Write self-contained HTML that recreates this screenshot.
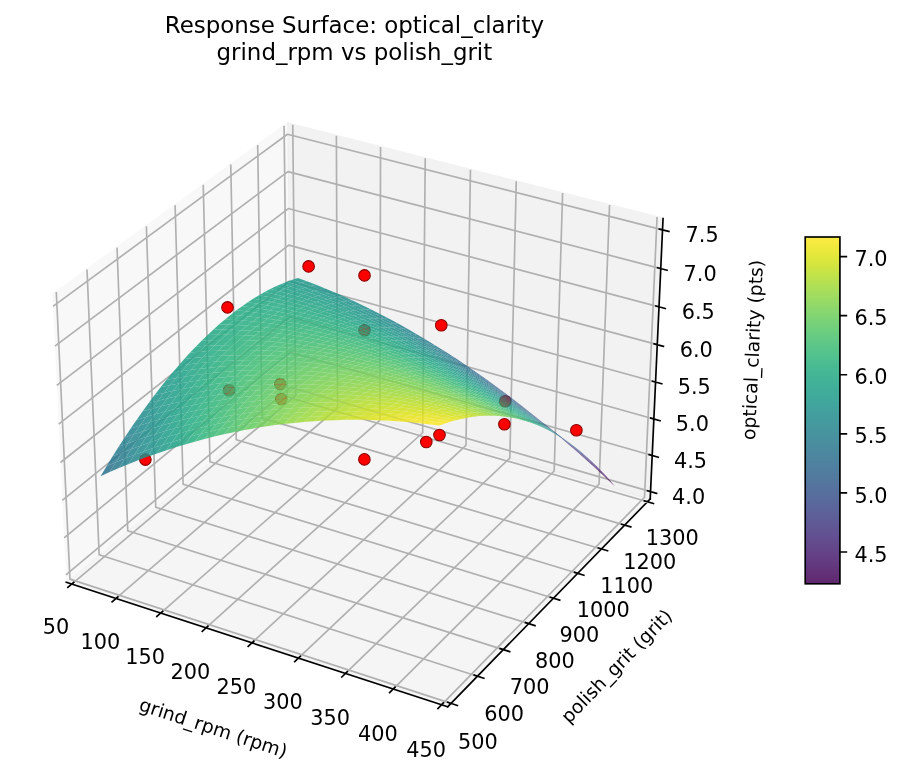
<!DOCTYPE html>
<html lang="en"><head><meta charset="utf-8"><title>Response Surface: optical_clarity</title>
<style>html,body{margin:0;padding:0;background:#fff}svg{display:block}</style></head>
<body>
<svg width="902" height="775" viewBox="0 0 432.96 372" font-family="'DejaVu Sans', 'Liberation Sans', sans-serif" fill="#000">
<rect width="432.96" height="372" fill="#fff"/>
<path d="M31.81 279.48L139.42 189.28L137.92 59.19L25.16 141.48" fill="#f2f2f2" stroke="#f2f2f2" opacity=".5" stroke-linejoin="miter"/>
<path d="M139.42 189.28L312.1 239.47L318.26 104.9L137.92 59.19" fill="#e6e6e6" stroke="#e6e6e6" opacity=".5" stroke-linejoin="miter"/>
<path d="M31.81 279.48L214.86 339.27L312.1 239.47L139.42 189.28" fill="#ececec" stroke="#ececec" opacity=".5" stroke-linejoin="miter"/>
<path d="M34.44 280.34L141.91 190L140.52 59.85M55.65 287.27L162 195.84L161.46 65.16M77.13 294.29L182.32 201.75L182.66 70.53M98.89 301.39L202.88 207.72L204.11 75.96M120.92 308.59L223.67 213.77L225.82 81.47M143.23 315.87L244.72 219.88L247.8 87.04M165.84 323.26L266.01 226.07L270.05 92.68M188.74 330.74L287.55 232.34L292.58 98.39M211.94 338.31L309.36 238.67L315.39 104.17" fill="none" stroke="#b0b0b0" stroke-width=".8" stroke-linejoin="round"/>
<path d="M27.02 140.12L33.58 278L216.47 337.62M41.76 129.37L47.59 266.25L229.18 324.57M56.17 118.85L61.31 254.75L241.61 311.81M70.26 108.57L74.75 243.49L253.76 299.34M84.05 98.5L87.9 232.46L265.66 287.13M97.55 88.65L100.79 221.66L277.29 275.19M110.76 79.01L113.42 211.07L288.68 263.5M123.69 69.57L125.79 200.7L299.83 252.06M136.36 60.33L137.92 190.54L310.75 240.85" fill="none" stroke="#b0b0b0" stroke-width=".8" stroke-linejoin="round"/>
<path d="M312.26 235.96L139.38 185.88L31.63 275.89M313.05 218.63L139.19 169.1L30.78 258.14M313.86 201.11L138.99 152.14L29.91 240.19M314.67 183.37L138.79 134.98L29.04 222.01M315.49 165.43L138.6 117.64L28.15 203.62M316.32 147.28L138.39 100.1L27.26 184.99M317.16 128.92L138.19 82.37L26.35 166.14M318.01 110.33L137.98 64.43L25.43 147.06" fill="none" stroke="#b0b0b0" stroke-width=".8" stroke-linejoin="round"/>
<path d="M31.81 279.48L214.86 339.27M35.37 279.56L32.56 281.92M56.58 286.47L53.8 288.87M78.05 293.48L75.3 295.9M99.79 300.57L97.07 303.03M121.81 307.76L119.12 310.24M144.12 315.04L141.46 317.55M166.71 322.41L164.08 324.96M189.6 329.88L187.01 332.46M212.79 337.44L210.23 340.06" fill="none" stroke="#000" stroke-width=".8" stroke-linecap="square"/>
<text font-size="10" text-anchor="middle" x="26.91" y="304.36">50</text>
<text font-size="10" text-anchor="middle" x="48.14" y="311.41">100</text>
<text font-size="10" text-anchor="middle" x="69.64" y="318.55">150</text>
<text font-size="10" text-anchor="middle" x="91.41" y="325.77">200</text>
<text font-size="10" text-anchor="middle" x="113.46" y="333.09">250</text>
<text font-size="10" text-anchor="middle" x="135.8" y="340.51">300</text>
<text font-size="10" text-anchor="middle" x="158.43" y="348.02">350</text>
<text font-size="10" text-anchor="middle" x="181.35" y="355.63">400</text>
<text font-size="10" text-anchor="middle" x="204.57" y="363.34">450</text>
<text font-size="9" text-anchor="middle" transform="translate(101.44 352.35) rotate(-341.91)">grind_rpm (rpm)</text>
<path d="M312.1 239.47L214.86 339.27M214.92 337.11L219.55 338.62M227.65 324.08L232.24 325.55M240.09 311.33L244.65 312.78M252.26 298.87L256.78 300.28M264.16 286.67L268.65 288.05M275.81 274.74L280.26 276.09M287.21 263.06L291.63 264.38M298.37 251.63L302.76 252.92M309.3 240.43L313.66 241.7" fill="none" stroke="#000" stroke-width=".8" stroke-linecap="square"/>
<text font-size="10" text-anchor="middle" x="229.4" y="359.47">500</text>
<text font-size="10" text-anchor="middle" x="241.97" y="346.26">600</text>
<text font-size="10" text-anchor="middle" x="254.27" y="333.35">700</text>
<text font-size="10" text-anchor="middle" x="266.29" y="320.73">800</text>
<text font-size="10" text-anchor="middle" x="278.05" y="308.38">900</text>
<text font-size="10" text-anchor="middle" x="289.56" y="296.29">1000</text>
<text font-size="10" text-anchor="middle" x="300.83" y="284.46">1100</text>
<text font-size="10" text-anchor="middle" x="311.85" y="272.88">1200</text>
<text font-size="10" text-anchor="middle" x="322.65" y="261.54">1300</text>
<text font-size="9" text-anchor="middle" transform="translate(298.15 321.9) rotate(-45.74)">polish_grit (grit)</text>
<path d="M312.1 239.47L318.26 104.9M310.81 235.54L315.17 236.8M311.6 218.22L315.98 219.47M312.39 200.69L316.8 201.93M313.19 182.97L317.63 184.19M314 165.03L318.47 166.24M314.83 146.89L319.32 148.08M315.66 128.53L320.18 129.7M316.5 109.94L321.05 111.1" fill="none" stroke="#000" stroke-width=".8" stroke-linecap="square"/>
<text font-size="10" text-anchor="middle" x="330.54" y="241.73">4.0</text>
<text font-size="10" text-anchor="middle" x="331.44" y="224.43">4.5</text>
<text font-size="10" text-anchor="middle" x="332.34" y="206.93">5.0</text>
<text font-size="10" text-anchor="middle" x="333.26" y="189.23">5.5</text>
<text font-size="10" text-anchor="middle" x="334.19" y="171.32">6.0</text>
<text font-size="10" text-anchor="middle" x="335.13" y="153.2">6.5</text>
<text font-size="10" text-anchor="middle" x="336.08" y="134.86">7.0</text>
<text font-size="10" text-anchor="middle" x="337.04" y="116.31">7.5</text>
<text font-size="9" text-anchor="middle" transform="translate(364.32 168.11) rotate(-87.38)">optical_clarity (pts)</text>
<g fill="#f00" stroke="#8b0000" stroke-width=".5">
<circle cx="148.13" cy="127.87" r="2.78"/>
<circle cx="174.96" cy="132.19" r="2.78"/>
<circle cx="109.2" cy="147.55" r="2.78"/>
<circle cx="211.82" cy="156.14" r="2.78"/>
<circle cx="174.96" cy="158.5" r="2.78"/>
<circle cx="109.97" cy="187.34" r="2.78"/>
<circle cx="134.54" cy="184.37" r="2.78"/>
<circle cx="134.98" cy="191.52" r="2.78"/>
<circle cx="242.5" cy="192.62" r="2.78"/>
<circle cx="69.79" cy="220.61" r="2.78"/>
<circle cx="174.91" cy="220.51" r="2.78"/>
<circle cx="204.62" cy="212.16" r="2.78"/>
<circle cx="210.96" cy="208.8" r="2.78"/>
<circle cx="242.11" cy="203.66" r="2.78"/>
<circle cx="276.67" cy="206.5" r="2.78"/>
</g>
<g fill-opacity="0.85">
<path d="M140.36 134.24L144.73 135.75L147.35 135.01L142.98 133.4z" fill="#1f978b"/>
<path d="M144.73 135.75L149.11 137.34L151.72 136.7L147.35 135.01z" fill="#1f968b"/>
<path d="M149.11 137.34L153.5 139.01L156.1 138.48L151.72 136.7z" fill="#1f958b"/>
<path d="M137.73 135.2L142.1 136.6L144.73 135.75L140.36 134.24z" fill="#1e9b8a"/>
<path d="M153.5 139.01L157.9 140.76L160.49 140.33L156.1 138.48z" fill="#1f948c"/>
<path d="M142.1 136.6L146.49 138.09L149.11 137.34L144.73 135.75z" fill="#1f9a8a"/>
<path d="M157.9 140.76L162.31 142.59L164.89 142.26L160.49 140.33z" fill="#20928c"/>
<path d="M146.49 138.09L150.89 139.65L153.5 139.01L149.11 137.34z" fill="#1f998a"/>
<path d="M135.08 136.27L139.46 137.57L142.1 136.6L137.73 135.2z" fill="#1e9d89"/>
<path d="M162.31 142.59L166.73 144.5L169.3 144.28L164.89 142.26z" fill="#20928c"/>
<path d="M150.89 139.65L155.29 141.3L157.9 140.76L153.5 139.01z" fill="#1f988b"/>
<path d="M139.46 137.57L143.85 138.95L146.49 138.09L142.1 136.6z" fill="#1e9d89"/>
<path d="M166.73 144.5L171.16 146.49L173.72 146.37L169.3 144.28z" fill="#21908d"/>
<path d="M155.29 141.3L159.71 143.03L162.31 142.59L157.9 140.76z" fill="#1f968b"/>
<path d="M171.16 146.49L175.59 148.57L178.15 148.55L173.72 146.37z" fill="#228d8d"/>
<path d="M143.85 138.95L148.26 140.41L150.89 139.65L146.49 138.09z" fill="#1e9c89"/>
<path d="M132.42 137.45L136.81 138.65L139.46 137.57L135.08 136.27z" fill="#1fa088"/>
<path d="M159.71 143.03L164.14 144.83L166.73 144.5L162.31 142.59z" fill="#1f958b"/>
<path d="M175.59 148.57L180.04 150.72L182.58 150.8L178.15 148.55z" fill="#228b8d"/>
<path d="M148.26 140.41L152.68 141.95L155.29 141.3L150.89 139.65z" fill="#1e9b8a"/>
<path d="M136.81 138.65L141.21 139.92L143.85 138.95L139.46 137.57z" fill="#1fa088"/>
<path d="M164.14 144.83L168.58 146.72L171.16 146.49L166.73 144.5z" fill="#20938c"/>
<path d="M180.04 150.72L184.5 152.96L187.03 153.14L182.58 150.8z" fill="#23898e"/>
<path d="M152.68 141.95L157.1 143.58L159.71 143.03L155.29 141.3z" fill="#1f9a8a"/>
<path d="M141.21 139.92L145.62 141.28L148.26 140.41L143.85 138.95z" fill="#1f9f88"/>
<path d="M129.75 138.75L134.14 139.84L136.81 138.65L132.42 137.45z" fill="#1fa187"/>
<path d="M184.5 152.96L188.96 155.27L191.48 155.56L187.03 153.14z" fill="#24868e"/>
<path d="M168.58 146.72L173.03 148.69L175.59 148.57L171.16 146.49z" fill="#20928c"/>
<path d="M157.1 143.58L161.54 145.28L164.14 144.83L159.71 143.03z" fill="#1f998a"/>
<path d="M188.96 155.27L193.43 157.67L195.94 158.06L191.48 155.56z" fill="#25838e"/>
<path d="M173.03 148.69L177.48 150.75L180.04 150.72L175.59 148.57z" fill="#21908d"/>
<path d="M145.62 141.28L150.04 142.72L152.68 141.95L148.26 140.41z" fill="#1f9f88"/>
<path d="M134.14 139.84L138.55 141.01L141.21 139.92L136.81 138.65z" fill="#1fa187"/>
<path d="M193.43 157.67L197.91 160.15L200.4 160.64L195.94 158.06z" fill="#26818e"/>
<path d="M161.54 145.28L165.99 147.06L168.58 146.72L164.14 144.83z" fill="#1f988b"/>
<path d="M177.48 150.75L181.95 152.88L184.5 152.96L180.04 150.72z" fill="#218e8d"/>
<path d="M150.04 142.72L154.48 144.24L157.1 143.58L152.68 141.95z" fill="#1f9e89"/>
<path d="M127.07 140.16L131.47 141.14L134.14 139.84L129.75 138.75z" fill="#20a386"/>
<path d="M138.55 141.01L142.97 142.26L145.62 141.28L141.21 139.92z" fill="#1fa187"/>
<path d="M197.91 160.15L202.39 162.71L204.88 163.3L200.4 160.64z" fill="#277e8e"/>
<path d="M165.99 147.06L170.44 148.93L173.03 148.69L168.58 146.72z" fill="#1f968b"/>
<path d="M181.95 152.88L186.42 155.09L188.96 155.27L184.5 152.96z" fill="#228c8d"/>
<path d="M202.39 162.71L206.88 165.36L209.35 166.05L204.88 163.3z" fill="#297a8e"/>
<path d="M154.48 144.24L158.92 145.83L161.54 145.28L157.1 143.58z" fill="#1e9d89"/>
<path d="M142.97 142.26L147.4 143.59L150.04 142.72L145.62 141.28z" fill="#1fa187"/>
<path d="M131.47 141.14L135.88 142.21L138.55 141.01L134.14 139.84z" fill="#20a386"/>
<path d="M186.42 155.09L190.9 157.39L193.43 157.67L188.96 155.27z" fill="#23898e"/>
<path d="M170.44 148.93L174.91 150.88L177.48 150.75L173.03 148.69z" fill="#1f948c"/>
<path d="M206.88 165.36L211.38 168.08L213.84 168.87L209.35 166.05z" fill="#2a768e"/>
<path d="M158.92 145.83L163.38 147.52L165.99 147.06L161.54 145.28z" fill="#1e9c89"/>
<path d="M190.9 157.39L195.39 159.77L197.91 160.15L193.43 157.67z" fill="#24868e"/>
<path d="M124.37 141.68L128.78 142.57L131.47 141.14L127.07 140.16z" fill="#21a585"/>
<path d="M174.91 150.88L179.39 152.91L181.95 152.88L177.48 150.75z" fill="#20928c"/>
<path d="M147.4 143.59L151.84 145.01L154.48 144.24L150.04 142.72z" fill="#1fa188"/>
<path d="M211.38 168.08L215.88 170.89L218.33 171.78L213.84 168.87z" fill="#2c738e"/>
<path d="M135.88 142.21L140.31 143.36L142.97 142.26L138.55 141.01z" fill="#20a486"/>
<path d="M163.38 147.52L167.85 149.28L170.44 148.93L165.99 147.06z" fill="#1e9b8a"/>
<path d="M195.39 159.77L199.89 162.23L202.39 162.71L197.91 160.15z" fill="#25838e"/>
<path d="M215.88 170.89L220.39 173.77L222.82 174.76L218.33 171.78z" fill="#2e6f8e"/>
<path d="M179.39 152.91L183.87 155.02L186.42 155.09L181.95 152.88z" fill="#21918c"/>
<path d="M151.84 145.01L156.3 146.5L158.92 145.83L154.48 144.24z" fill="#1fa188"/>
<path d="M128.78 142.57L133.2 143.53L135.88 142.21L131.47 141.14z" fill="#21a585"/>
<path d="M140.31 143.36L144.74 144.58L147.4 143.59L142.97 142.26z" fill="#20a486"/>
<path d="M220.39 173.77L224.91 176.74L227.32 177.83L222.82 174.76z" fill="#2f6b8e"/>
<path d="M199.89 162.23L204.39 164.77L206.88 165.36L202.39 162.71z" fill="#26818e"/>
<path d="M167.85 149.28L172.32 151.12L174.91 150.88L170.44 148.93z" fill="#1f998a"/>
<path d="M183.87 155.02L188.36 157.21L190.9 157.39L186.42 155.09z" fill="#218f8d"/>
<path d="M224.91 176.74L229.43 179.79L231.83 180.98L227.32 177.83z" fill="#31678e"/>
<path d="M121.67 143.33L126.08 144.1L128.78 142.57L124.37 141.68z" fill="#21a685"/>
<path d="M156.3 146.5L160.76 148.08L163.38 147.52L158.92 145.83z" fill="#1fa088"/>
<path d="M204.39 164.77L208.91 167.39L211.38 168.08L206.88 165.36z" fill="#277e8e"/>
<path d="M133.2 143.53L137.63 144.57L140.31 143.36L135.88 142.21z" fill="#21a685"/>
<path d="M144.74 144.58L149.19 145.89L151.84 145.01L147.4 143.59z" fill="#20a386"/>
<path d="M172.32 151.12L176.81 153.05L179.39 152.91L174.91 150.88z" fill="#1f978b"/>
<path d="M229.43 179.79L233.95 182.92L236.34 184.21L231.83 180.98z" fill="#33628d"/>
<path d="M188.36 157.21L192.86 159.49L195.39 159.77L190.9 157.39z" fill="#228c8d"/>
<path d="M208.91 167.39L213.42 170.1L215.88 170.89L211.38 168.08z" fill="#297a8e"/>
<path d="M160.76 148.08L165.24 149.74L167.85 149.28L163.38 147.52z" fill="#1f9f88"/>
<path d="M233.95 182.92L238.48 186.14L240.85 187.52L236.34 184.21z" fill="#365d8d"/>
<path d="M126.08 144.1L130.5 144.96L133.2 143.53L128.78 142.57z" fill="#22a785"/>
<path d="M192.86 159.49L197.37 161.85L199.89 162.23L195.39 159.77z" fill="#23898e"/>
<path d="M149.19 145.89L153.65 147.28L156.3 146.5L151.84 145.01z" fill="#20a386"/>
<path d="M176.81 153.05L181.3 155.06L183.87 155.02L179.39 152.91z" fill="#1f958b"/>
<path d="M137.63 144.57L142.07 145.69L144.74 144.58L140.31 143.36z" fill="#21a685"/>
<path d="M213.42 170.1L217.95 172.88L220.39 173.77L215.88 170.89z" fill="#2a768e"/>
<path d="M238.48 186.14L243.02 189.43L245.37 190.91L240.85 187.52z" fill="#38588c"/>
<path d="M165.24 149.74L169.72 151.48L172.32 151.12L167.85 149.28z" fill="#1e9d89"/>
<path d="M197.37 161.85L201.89 164.29L204.39 164.77L199.89 162.23z" fill="#24878e"/>
<path d="M118.95 145.09L123.37 145.76L126.08 144.1L121.67 143.33z" fill="#22a884"/>
<path d="M243.02 189.43L247.56 192.8L249.89 194.39L245.37 190.91z" fill="#3b528b"/>
<path d="M217.95 172.88L222.48 175.75L224.91 176.74L220.39 173.77z" fill="#2c728e"/>
<path d="M181.3 155.06L185.81 157.15L188.36 157.21L183.87 155.02z" fill="#20938c"/>
<path d="M153.65 147.28L158.13 148.76L160.76 148.08L156.3 146.5z" fill="#1fa287"/>
<path d="M130.5 144.96L134.94 145.89L137.63 144.57L133.2 143.53z" fill="#22a884"/>
<path d="M142.07 145.69L146.53 146.89L149.19 145.89L144.74 144.58z" fill="#21a685"/>
<path d="M247.56 192.8L252.1 196.26L254.41 197.94L249.89 194.39z" fill="#3d4d8a"/>
<path d="M222.48 175.75L227.01 178.7L229.43 179.79L224.91 176.74z" fill="#2e6f8e"/>
<path d="M201.89 164.29L206.41 166.81L208.91 167.39L204.39 164.77z" fill="#25838e"/>
<path d="M169.72 151.48L174.22 153.3L176.81 153.05L172.32 151.12z" fill="#1e9c89"/>
<path d="M252.1 196.26L256.64 199.8L258.94 201.57L254.41 197.94z" fill="#404688"/>
<path d="M185.81 157.15L190.32 159.32L192.86 159.49L188.36 157.21z" fill="#20928c"/>
<path d="M123.37 145.76L127.8 146.51L130.5 144.96L126.08 144.1z" fill="#23a983"/>
<path d="M227.01 178.7L231.55 181.73L233.95 182.92L229.43 179.79z" fill="#2f6b8e"/>
<path d="M158.13 148.76L162.61 150.31L165.24 149.74L160.76 148.08z" fill="#1fa287"/>
<path d="M256.64 199.8L261.19 203.41L263.47 205.28L258.94 201.57z" fill="#423f85"/>
<path d="M206.41 166.81L210.95 169.41L213.42 170.1L208.91 167.39z" fill="#26818e"/>
<path d="M134.94 145.89L139.39 146.91L142.07 145.69L137.63 144.57z" fill="#22a884"/>
<path d="M146.53 146.89L151 148.18L153.65 147.28L149.19 145.89z" fill="#21a685"/>
<path d="M174.22 153.3L178.72 155.2L181.3 155.06L176.81 153.05z" fill="#1f9a8a"/>
<path d="M190.32 159.32L194.84 161.57L197.37 161.85L192.86 159.49z" fill="#218f8d"/>
<path d="M261.19 203.41L265.74 207.11L268 209.08L263.47 205.28z" fill="#453882"/>
<path d="M231.55 181.73L236.1 184.85L238.48 186.14L233.95 182.92z" fill="#31668e"/>
<path d="M116.23 146.97L120.65 147.53L123.37 145.76L118.95 145.09z" fill="#22a884"/>
<path d="M210.95 169.41L215.48 172.1L217.95 172.88L213.42 170.1z" fill="#277e8e"/>
<path d="M265.74 207.11L270.29 210.89L272.53 212.95L268 209.08z" fill="#46307e"/>
<path d="M162.61 150.31L167.1 151.94L169.72 151.48L165.24 149.74z" fill="#1fa187"/>
<path d="M236.1 184.85L240.65 188.04L243.02 189.43L238.48 186.14z" fill="#34618d"/>
<path d="M127.8 146.51L132.24 147.34L134.94 145.89L130.5 144.96z" fill="#24aa83"/>
<path d="M151 148.18L155.48 149.54L158.13 148.76L153.65 147.28z" fill="#21a685"/>
<path d="M270.29 210.89L274.84 214.75L277.07 216.9L272.53 212.95z" fill="#482979"/>
<path d="M194.84 161.57L199.37 163.91L201.89 164.29L197.37 161.85z" fill="#228d8d"/>
<path d="M139.39 146.91L143.85 148.01L146.53 146.89L142.07 145.69z" fill="#23a983"/>
<path d="M178.72 155.2L183.24 157.19L185.81 157.15L181.3 155.06z" fill="#1f998a"/>
<path d="M215.48 172.1L220.03 174.86L222.48 175.75L217.95 172.88z" fill="#297a8e"/>
<path d="M274.84 214.75L279.4 218.68L281.6 220.93L277.07 216.9z" fill="#482071"/>
<path d="M240.65 188.04L245.2 191.32L247.56 192.8L243.02 189.43z" fill="#365c8d"/>
<path d="M167.1 151.94L171.61 153.66L174.22 153.3L169.72 151.48z" fill="#1fa088"/>
<path d="M120.65 147.53L125.08 148.17L127.8 146.51L123.37 145.76z" fill="#24aa83"/>
<path d="M279.4 218.68L283.95 222.7L286.14 225.05L281.6 220.93z" fill="#48186a"/>
<path d="M199.37 163.91L203.91 166.33L206.41 166.81L201.89 164.29z" fill="#238a8d"/>
<path d="M245.2 191.32L249.76 194.68L252.1 196.26L247.56 192.8z" fill="#39568c"/>
<path d="M220.03 174.86L224.58 177.71L227.01 178.7L222.48 175.75z" fill="#2a768e"/>
<path d="M183.24 157.19L187.76 159.26L190.32 159.32L185.81 157.15z" fill="#1f968b"/>
<path d="M283.95 222.7L288.51 226.8L290.67 229.24L286.14 225.05z" fill="#470e61"/>
<path d="M155.48 149.54L159.97 150.99L162.61 150.31L158.13 148.76z" fill="#21a585"/>
<path d="M132.24 147.34L136.7 148.25L139.39 146.91L134.94 145.89z" fill="#24aa83"/>
<path d="M143.85 148.01L148.33 149.19L151 148.18L146.53 146.89z" fill="#23a983"/>
<path d="M288.51 226.8L293.06 230.98L295.21 233.5L290.67 229.24z" fill="#440256"/>
<path d="M113.49 148.96L117.92 149.42L120.65 147.53L116.23 146.97z" fill="#23a983"/>
<path d="M249.76 194.68L254.32 198.11L256.64 199.8L252.1 196.26z" fill="#3b518b"/>
<path d="M224.58 177.71L229.13 180.64L231.55 181.73L227.01 178.7z" fill="#2c728e"/>
<path d="M203.91 166.33L208.45 168.83L210.95 169.41L206.41 166.81z" fill="#24878e"/>
<path d="M171.61 153.66L176.12 155.46L178.72 155.2L174.22 153.3z" fill="#1f9f88"/>
<path d="M187.76 159.26L192.29 161.41L194.84 161.57L190.32 159.32z" fill="#1f948c"/>
<path d="M254.32 198.11L258.89 201.63L261.19 203.41L256.64 199.8z" fill="#3e4a89"/>
<path d="M125.08 148.17L129.53 148.9L132.24 147.34L127.8 146.51z" fill="#25ab82"/>
<path d="M159.97 150.99L164.47 152.52L167.1 151.94L162.61 150.31z" fill="#20a486"/>
<path d="M229.13 180.64L233.69 183.66L236.1 184.85L231.55 181.73z" fill="#2e6f8e"/>
<path d="M136.7 148.25L141.17 149.24L143.85 148.01L139.39 146.91z" fill="#25ab82"/>
<path d="M148.33 149.19L152.82 150.45L155.48 149.54L151 148.18z" fill="#23a983"/>
<path d="M208.45 168.83L213 171.41L215.48 172.1L210.95 169.41z" fill="#25848e"/>
<path d="M258.89 201.63L263.45 205.24L265.74 207.11L261.19 203.41z" fill="#404588"/>
<path d="M176.12 155.46L180.65 157.34L183.24 157.19L178.72 155.2z" fill="#1e9d89"/>
<path d="M192.29 161.41L196.83 163.64L199.37 163.91L194.84 161.57z" fill="#20928c"/>
<path d="M117.92 149.42L122.35 149.96L125.08 148.17L120.65 147.53z" fill="#25ab82"/>
<path d="M233.69 183.66L238.26 186.75L240.65 188.04L236.1 184.85z" fill="#306a8e"/>
<path d="M263.45 205.24L268.02 208.92L270.29 210.89L265.74 207.11z" fill="#433e85"/>
<path d="M213 171.41L217.56 174.08L220.03 174.86L215.48 172.1z" fill="#26818e"/>
<path d="M164.47 152.52L168.99 154.13L171.61 153.66L167.1 151.94z" fill="#20a486"/>
<path d="M129.53 148.9L133.99 149.7L136.7 148.25L132.24 147.34z" fill="#25ac82"/>
<path d="M268.02 208.92L272.6 212.68L274.84 214.75L270.29 210.89z" fill="#453781"/>
<path d="M238.26 186.75L242.83 189.93L245.2 191.32L240.65 188.04z" fill="#32658e"/>
<path d="M152.82 150.45L157.32 151.79L159.97 150.99L155.48 149.54z" fill="#23a983"/>
<path d="M110.75 151.08L115.17 151.43L117.92 149.42L113.49 148.96z" fill="#23a983"/>
<path d="M141.17 149.24L145.65 150.31L148.33 149.19L143.85 148.01z" fill="#25ab82"/>
<path d="M196.83 163.64L201.38 165.96L203.91 166.33L199.37 163.91z" fill="#21908d"/>
<path d="M180.65 157.34L185.18 159.31L187.76 159.26L183.24 157.19z" fill="#1e9c89"/>
<path d="M272.6 212.68L277.17 216.52L279.4 218.68L274.84 214.75z" fill="#472e7c"/>
<path d="M217.56 174.08L222.12 176.83L224.58 177.71L220.03 174.86z" fill="#277e8e"/>
<path d="M242.83 189.93L247.4 193.19L249.76 194.68L245.2 191.32z" fill="#34618d"/>
<path d="M277.17 216.52L281.74 220.45L283.95 222.7L279.4 218.68z" fill="#482677"/>
<path d="M122.35 149.96L126.81 150.57L129.53 148.9L125.08 148.17z" fill="#25ac82"/>
<path d="M168.99 154.13L173.51 155.83L176.12 155.46L171.61 153.66z" fill="#1fa287"/>
<path d="M201.38 165.96L205.94 168.36L208.45 168.83L203.91 166.33z" fill="#228d8d"/>
<path d="M281.74 220.45L286.32 224.45L288.51 226.8L283.95 222.7z" fill="#481d6f"/>
<path d="M185.18 159.31L189.73 161.35L192.29 161.41L187.76 159.26z" fill="#1f9a8a"/>
<path d="M133.99 149.7L138.47 150.58L141.17 149.24L136.7 148.25z" fill="#26ad81"/>
<path d="M222.12 176.83L226.69 179.66L229.13 180.64L224.58 177.71z" fill="#297a8e"/>
<path d="M157.32 151.79L161.83 153.21L164.47 152.52L159.97 150.99z" fill="#22a884"/>
<path d="M247.4 193.19L251.98 196.53L254.32 198.11L249.76 194.68z" fill="#375b8d"/>
<path d="M145.65 150.31L150.14 151.46L152.82 150.45L148.33 149.19z" fill="#25ac82"/>
<path d="M286.32 224.45L290.9 228.53L293.06 230.98L288.51 226.8z" fill="#481467"/>
<path d="M115.17 151.43L119.61 151.86L122.35 149.96L117.92 149.42z" fill="#25ab82"/>
<path d="M251.98 196.53L256.57 199.95L258.89 201.63L254.32 198.11z" fill="#39558c"/>
<path d="M205.94 168.36L210.5 170.84L213 171.41L208.45 168.83z" fill="#238a8d"/>
<path d="M173.51 155.83L178.05 157.6L180.65 157.34L176.12 155.46z" fill="#1fa187"/>
<path d="M226.69 179.66L231.27 182.57L233.69 183.66L229.13 180.64z" fill="#2a768e"/>
<path d="M189.73 161.35L194.28 163.48L196.83 163.64L192.29 161.41z" fill="#1f988b"/>
<path d="M126.81 150.57L131.27 151.27L133.99 149.7L129.53 148.9z" fill="#27ad81"/>
<path d="M107.99 153.31L112.42 153.56L115.17 151.43L110.75 151.08z" fill="#24aa83"/>
<path d="M256.57 199.95L261.15 203.46L263.45 205.24L258.89 201.63z" fill="#3c508b"/>
<path d="M161.83 153.21L166.35 154.72L168.99 154.13L164.47 152.52z" fill="#22a785"/>
<path d="M138.47 150.58L142.96 151.55L145.65 150.31L141.17 149.24z" fill="#27ad81"/>
<path d="M150.14 151.46L154.65 152.7L157.32 151.79L152.82 150.45z" fill="#25ac82"/>
<path d="M231.27 182.57L235.85 185.57L238.26 186.75L233.69 183.66z" fill="#2c728e"/>
<path d="M210.5 170.84L215.08 173.4L217.56 174.08L213 171.41z" fill="#24878e"/>
<path d="M261.15 203.46L265.74 207.04L268.02 208.92L263.45 205.24z" fill="#3e4989"/>
<path d="M178.05 157.6L182.59 159.46L185.18 159.31L180.65 157.34z" fill="#1fa188"/>
<path d="M119.61 151.86L124.07 152.37L126.81 150.57L122.35 149.96z" fill="#26ad81"/>
<path d="M194.28 163.48L198.84 165.69L201.38 165.96L196.83 163.64z" fill="#1f958b"/>
<path d="M235.85 185.57L240.44 188.64L242.83 189.93L238.26 186.75z" fill="#2e6e8e"/>
<path d="M265.74 207.04L270.33 210.71L272.6 212.68L268.02 208.92z" fill="#414287"/>
<path d="M166.35 154.72L170.89 156.31L173.51 155.83L168.99 154.13z" fill="#22a785"/>
<path d="M215.08 173.4L219.65 176.05L222.12 176.83L217.56 174.08z" fill="#25848e"/>
<path d="M131.27 151.27L135.75 152.05L138.47 150.58L133.99 149.7z" fill="#28ae80"/>
<path d="M112.42 153.56L116.86 153.88L119.61 151.86L115.17 151.43z" fill="#25ac82"/>
<path d="M154.65 152.7L159.17 154.02L161.83 153.21L157.32 151.79z" fill="#25ab82"/>
<path d="M142.96 151.55L147.46 152.6L150.14 151.46L145.65 150.31z" fill="#27ad81"/>
<path d="M270.33 210.71L274.92 214.45L277.17 216.52L272.6 212.68z" fill="#443b84"/>
<path d="M240.44 188.64L245.03 191.8L247.4 193.19L242.83 189.93z" fill="#306a8e"/>
<path d="M182.59 159.46L187.15 161.4L189.73 161.35L185.18 159.31z" fill="#1f9f88"/>
<path d="M198.84 165.69L203.41 167.99L205.94 168.36L201.38 165.96z" fill="#20938c"/>
<path d="M274.92 214.45L279.52 218.28L281.74 220.45L277.17 216.52z" fill="#463480"/>
<path d="M219.65 176.05L224.24 178.77L226.69 179.66L222.12 176.83z" fill="#26818e"/>
<path d="M105.22 155.67L109.66 155.8L112.42 153.56L107.99 153.31z" fill="#23a983"/>
<path d="M124.07 152.37L128.54 152.96L131.27 151.27L126.81 150.57z" fill="#28ae80"/>
<path d="M245.03 191.8L249.63 195.04L251.98 196.53L247.4 193.19z" fill="#32658e"/>
<path d="M170.89 156.31L175.43 157.98L178.05 157.6L173.51 155.83z" fill="#21a685"/>
<path d="M279.52 218.28L284.11 222.19L286.32 224.45L281.74 220.45z" fill="#472d7b"/>
<path d="M203.41 167.99L207.99 170.36L210.5 170.84L205.94 168.36z" fill="#21918c"/>
<path d="M135.75 152.05L140.25 152.91L142.96 151.55L138.47 150.58z" fill="#29af7f"/>
<path d="M187.15 161.4L191.71 163.43L194.28 163.48L189.73 161.35z" fill="#1e9d89"/>
<path d="M159.17 154.02L163.7 155.42L166.35 154.72L161.83 153.21z" fill="#25ab82"/>
<path d="M224.24 178.77L228.83 181.59L231.27 182.57L226.69 179.66z" fill="#277e8e"/>
<path d="M147.46 152.6L151.97 153.73L154.65 152.7L150.14 151.46z" fill="#27ad81"/>
<path d="M284.11 222.19L288.71 226.18L290.9 228.53L286.32 224.45z" fill="#482475"/>
<path d="M249.63 195.04L254.23 198.37L256.57 199.95L251.98 196.53z" fill="#34608d"/>
<path d="M116.86 153.88L121.33 154.28L124.07 152.37L119.61 151.86z" fill="#27ad81"/>
<path d="M175.43 157.98L179.99 159.73L182.59 159.46L178.05 157.6z" fill="#20a486"/>
<path d="M207.99 170.36L212.57 172.82L215.08 173.4L210.5 170.84z" fill="#218e8d"/>
<path d="M254.23 198.37L258.83 201.77L261.15 203.46L256.57 199.95z" fill="#375b8d"/>
<path d="M228.83 181.59L233.43 184.48L235.85 185.57L231.27 182.57z" fill="#297a8e"/>
<path d="M128.54 152.96L133.03 153.63L135.75 152.05L131.27 151.27z" fill="#29af7f"/>
<path d="M109.66 155.8L114.11 156.02L116.86 153.88L112.42 153.56z" fill="#25ac82"/>
<path d="M191.71 163.43L196.29 165.54L198.84 165.69L194.28 163.48z" fill="#1e9b8a"/>
<path d="M163.7 155.42L168.25 156.9L170.89 156.31L166.35 154.72z" fill="#25ab82"/>
<path d="M140.25 152.91L144.76 153.85L147.46 152.6L142.96 151.55z" fill="#29af7f"/>
<path d="M258.83 201.77L263.44 205.26L265.74 207.04L261.15 203.46z" fill="#3a548c"/>
<path d="M151.97 153.73L156.5 154.94L159.17 154.02L154.65 152.7z" fill="#28ae80"/>
<path d="M102.45 158.14L106.88 158.17L109.66 155.8L105.22 155.67z" fill="#23a983"/>
<path d="M233.43 184.48L238.03 187.46L240.44 188.64L235.85 185.57z" fill="#2a768e"/>
<path d="M212.57 172.82L217.17 175.37L219.65 176.05L215.08 173.4z" fill="#228b8d"/>
<path d="M121.33 154.28L125.8 154.76L128.54 152.96L124.07 152.37z" fill="#29af7f"/>
<path d="M179.99 159.73L184.55 161.57L187.15 161.4L182.59 159.46z" fill="#20a386"/>
<path d="M263.44 205.26L268.04 208.83L270.33 210.71L265.74 207.04z" fill="#3c4f8a"/>
<path d="M196.29 165.54L200.87 167.73L203.41 167.99L198.84 165.69z" fill="#1f998a"/>
<path d="M238.03 187.46L242.64 190.51L245.03 191.8L240.44 188.64z" fill="#2c718e"/>
<path d="M133.03 153.63L137.53 154.38L140.25 152.91L135.75 152.05z" fill="#2ab07f"/>
<path d="M168.25 156.9L172.8 158.46L175.43 157.98L170.89 156.31z" fill="#24aa83"/>
<path d="M268.04 208.83L272.66 212.48L274.92 214.45L270.33 210.71z" fill="#3f4889"/>
<path d="M217.17 175.37L221.77 177.99L224.24 178.77L219.65 176.05z" fill="#23888e"/>
<path d="M114.11 156.02L118.57 156.32L121.33 154.28L116.86 153.88z" fill="#27ad81"/>
<path d="M144.76 153.85L149.28 154.87L151.97 153.73L147.46 152.6z" fill="#2ab07f"/>
<path d="M156.5 154.94L161.04 156.23L163.7 155.42L159.17 154.02z" fill="#27ad81"/>
<path d="M184.55 161.57L189.13 163.49L191.71 163.43L187.15 161.4z" fill="#1fa187"/>
<path d="M272.66 212.48L277.27 216.21L279.52 218.28L274.92 214.45z" fill="#424186"/>
<path d="M200.87 167.73L205.46 170L207.99 170.36L203.41 167.99z" fill="#1f968b"/>
<path d="M242.64 190.51L247.25 193.66L249.63 195.04L245.03 191.8z" fill="#2e6e8e"/>
<path d="M106.88 158.17L111.33 158.28L114.11 156.02L109.66 155.8z" fill="#25ac82"/>
<path d="M125.8 154.76L130.29 155.33L133.03 153.63L128.54 152.96z" fill="#2ab07f"/>
<path d="M221.77 177.99L226.37 180.7L228.83 181.59L224.24 178.77z" fill="#25848e"/>
<path d="M277.27 216.21L281.89 220.02L284.11 222.19L279.52 218.28z" fill="#443a83"/>
<path d="M172.8 158.46L177.37 160.11L179.99 159.73L175.43 157.98z" fill="#23a983"/>
<path d="M99.66 160.74L104.1 160.66L106.88 158.17L102.45 158.14z" fill="#22a884"/>
<path d="M247.25 193.66L251.87 196.88L254.23 198.37L249.63 195.04z" fill="#30698e"/>
<path d="M137.53 154.38L142.05 155.21L144.76 153.85L140.25 152.91z" fill="#2cb17e"/>
<path d="M281.89 220.02L286.51 223.92L288.71 226.18L284.11 222.19z" fill="#46337f"/>
<path d="M205.46 170L210.06 172.36L212.57 172.82L207.99 170.36z" fill="#1f948c"/>
<path d="M161.04 156.23L165.59 157.61L168.25 156.9L163.7 155.42z" fill="#27ad81"/>
<path d="M189.13 163.49L193.71 165.49L196.29 165.54L191.71 163.43z" fill="#1fa188"/>
<path d="M149.28 154.87L153.81 155.97L156.5 154.94L151.97 153.73z" fill="#2ab07f"/>
<path d="M118.57 156.32L123.05 156.69L125.8 154.76L121.33 154.28z" fill="#29af7f"/>
<path d="M226.37 180.7L230.98 183.5L233.43 184.48L228.83 181.59z" fill="#26828e"/>
<path d="M251.87 196.88L256.49 200.19L258.83 201.77L254.23 198.37z" fill="#32648e"/>
<path d="M177.37 160.11L181.94 161.84L184.55 161.57L179.99 159.73z" fill="#22a884"/>
<path d="M130.29 155.33L134.8 155.97L137.53 154.38L133.03 153.63z" fill="#2db27d"/>
<path d="M111.33 158.28L115.8 158.47L118.57 156.32L114.11 156.02z" fill="#27ad81"/>
<path d="M210.06 172.36L214.66 174.8L217.17 175.37L212.57 172.82z" fill="#20928c"/>
<path d="M256.49 200.19L261.11 203.58L263.44 205.26L258.83 201.77z" fill="#355f8d"/>
<path d="M230.98 183.5L235.6 186.37L238.03 187.46L233.43 184.48z" fill="#277e8e"/>
<path d="M193.71 165.49L198.31 167.58L200.87 167.73L196.29 165.54z" fill="#1f9f88"/>
<path d="M165.59 157.61L170.15 159.07L172.8 158.46L168.25 156.9z" fill="#27ad81"/>
<path d="M142.05 155.21L146.57 156.13L149.28 154.87L144.76 153.85z" fill="#2db27d"/>
<path d="M153.81 155.97L158.36 157.16L161.04 156.23L156.5 154.94z" fill="#2cb17e"/>
<path d="M104.1 160.66L108.55 160.66L111.33 158.28L106.88 158.17z" fill="#25ab82"/>
<path d="M261.11 203.58L265.74 207.05L268.04 208.83L263.44 205.26z" fill="#375a8c"/>
<path d="M235.6 186.37L240.22 189.33L242.64 190.51L238.03 187.46z" fill="#297a8e"/>
<path d="M123.05 156.69L127.55 157.15L130.29 155.33L125.8 154.76z" fill="#2cb17e"/>
<path d="M214.66 174.8L219.27 177.32L221.77 177.99L217.17 175.37z" fill="#218f8d"/>
<path d="M96.87 163.46L101.31 163.27L104.1 160.66L99.66 160.74z" fill="#22a785"/>
<path d="M181.94 161.84L186.53 163.66L189.13 163.49L184.55 161.57z" fill="#21a685"/>
<path d="M198.31 167.58L202.91 169.74L205.46 170L200.87 167.73z" fill="#1e9c89"/>
<path d="M265.74 207.05L270.37 210.6L272.66 212.48L268.04 208.83z" fill="#3a538b"/>
<path d="M134.8 155.97L139.32 156.7L142.05 155.21L137.53 154.38z" fill="#2eb37c"/>
<path d="M170.15 159.07L174.73 160.61L177.37 160.11L172.8 158.46z" fill="#26ad81"/>
<path d="M240.22 189.33L244.85 192.37L247.25 193.66L242.64 190.51z" fill="#2a768e"/>
<path d="M115.8 158.47L120.29 158.74L123.05 156.69L118.57 156.32z" fill="#2ab07f"/>
<path d="M219.27 177.32L223.89 179.93L226.37 180.7L221.77 177.99z" fill="#228c8d"/>
<path d="M146.57 156.13L151.12 157.13L153.81 155.97L149.28 154.87z" fill="#2eb37c"/>
<path d="M270.37 210.6L275 214.23L277.27 216.21L272.66 212.48z" fill="#3d4e8a"/>
<path d="M158.36 157.16L162.92 158.43L165.59 157.61L161.04 156.23z" fill="#2ab07f"/>
<path d="M186.53 163.66L191.12 165.55L193.71 165.49L189.13 163.49z" fill="#21a585"/>
<path d="M202.91 169.74L207.52 172L210.06 172.36L205.46 170z" fill="#1f9a8a"/>
<path d="M108.55 160.66L113.03 160.74L115.8 158.47L111.33 158.28z" fill="#27ad81"/>
<path d="M244.85 192.37L249.49 195.49L251.87 196.88L247.25 193.66z" fill="#2c718e"/>
<path d="M275 214.23L279.64 217.95L281.89 220.02L277.27 216.21z" fill="#3f4788"/>
<path d="M127.55 157.15L132.06 157.68L134.8 155.97L130.29 155.33z" fill="#2eb37c"/>
<path d="M223.89 179.93L228.52 182.61L230.98 183.5L226.37 180.7z" fill="#23888e"/>
<path d="M101.31 163.27L105.76 163.17L108.55 160.66L104.1 160.66z" fill="#25ab82"/>
<path d="M174.73 160.61L179.32 162.23L181.94 161.84L177.37 160.11z" fill="#25ac82"/>
<path d="M279.64 217.95L284.28 221.75L286.51 223.92L281.89 220.02z" fill="#424086"/>
<path d="M139.32 156.7L143.86 157.51L146.57 156.13L142.05 155.21z" fill="#2fb47c"/>
<path d="M249.49 195.49L254.13 198.7L256.49 200.19L251.87 196.88z" fill="#2e6d8e"/>
<path d="M94.07 166.29L98.51 166L101.31 163.27L96.87 163.46z" fill="#21a685"/>
<path d="M162.92 158.43L167.49 159.78L170.15 159.07L165.59 157.61z" fill="#2ab07f"/>
<path d="M207.52 172L212.14 174.33L214.66 174.8L210.06 172.36z" fill="#1f988b"/>
<path d="M151.12 157.13L155.67 158.2L158.36 157.16L153.81 155.97z" fill="#2eb37c"/>
<path d="M191.12 165.55L195.73 167.53L198.31 167.58L193.71 165.49z" fill="#20a386"/>
<path d="M120.29 158.74L124.79 159.09L127.55 157.15L123.05 156.69z" fill="#2db27d"/>
<path d="M228.52 182.61L233.15 185.39L235.6 186.37L230.98 183.5z" fill="#25858e"/>
<path d="M254.13 198.7L258.77 201.99L261.11 203.58L256.49 200.19z" fill="#30698e"/>
<path d="M113.03 160.74L117.51 160.9L120.29 158.74L115.8 158.47z" fill="#2ab07f"/>
<path d="M179.32 162.23L183.91 163.94L186.53 163.66L181.94 161.84z" fill="#25ab82"/>
<path d="M132.06 157.68L136.58 158.3L139.32 156.7L134.8 155.97z" fill="#31b57b"/>
<path d="M212.14 174.33L216.77 176.75L219.27 177.32L214.66 174.8z" fill="#1f958b"/>
<path d="M233.15 185.39L237.79 188.24L240.22 189.33L235.6 186.37z" fill="#26828e"/>
<path d="M195.73 167.53L200.34 169.6L202.91 169.74L198.31 167.58z" fill="#1fa187"/>
<path d="M258.77 201.99L263.41 205.36L265.74 207.05L261.11 203.58z" fill="#32648e"/>
<path d="M167.49 159.78L172.08 161.21L174.73 160.61L170.15 159.07z" fill="#2ab07f"/>
<path d="M143.86 157.51L148.4 158.4L151.12 157.13L146.57 156.13z" fill="#31b57b"/>
<path d="M105.76 163.17L110.24 163.14L113.03 160.74L108.55 160.66z" fill="#27ad81"/>
<path d="M155.67 158.2L160.24 159.37L162.92 158.43L158.36 157.16z" fill="#2fb47c"/>
<path d="M124.79 159.09L129.3 159.51L132.06 157.68L127.55 157.15z" fill="#2fb47c"/>
<path d="M98.51 166L102.97 165.79L105.76 163.17L101.31 163.27z" fill="#24aa83"/>
<path d="M263.41 205.36L268.06 208.81L270.37 210.6L265.74 207.05z" fill="#355e8d"/>
<path d="M216.77 176.75L221.4 179.25L223.89 179.93L219.27 177.32z" fill="#20928c"/>
<path d="M237.79 188.24L242.44 191.18L244.85 192.37L240.22 189.33z" fill="#277e8e"/>
<path d="M183.91 163.94L188.52 165.73L191.12 165.55L186.53 163.66z" fill="#24aa83"/>
<path d="M91.26 169.26L95.7 168.86L98.51 166L94.07 166.29z" fill="#21a585"/>
<path d="M200.34 169.6L204.97 171.74L207.52 172L202.91 169.74z" fill="#1fa088"/>
<path d="M136.58 158.3L141.13 159L143.86 157.51L139.32 156.7z" fill="#32b67a"/>
<path d="M268.06 208.81L272.72 212.35L275 214.23L270.37 210.6z" fill="#38598c"/>
<path d="M117.51 160.9L122.02 161.14L124.79 159.09L120.29 158.74z" fill="#2db27d"/>
<path d="M172.08 161.21L176.67 162.73L179.32 162.23L174.73 160.61z" fill="#29af7f"/>
<path d="M242.44 191.18L247.09 194.21L249.49 195.49L244.85 192.37z" fill="#297a8e"/>
<path d="M148.4 158.4L152.97 159.37L155.67 158.2L151.12 157.13z" fill="#32b67a"/>
<path d="M160.24 159.37L164.82 160.61L167.49 159.78L162.92 158.43z" fill="#2fb47c"/>
<path d="M221.4 179.25L226.04 181.84L228.52 182.61L223.89 179.93z" fill="#21908d"/>
<path d="M272.72 212.35L277.37 215.97L279.64 217.95L275 214.23z" fill="#3b528b"/>
<path d="M110.24 163.14L114.73 163.19L117.51 160.9L113.03 160.74z" fill="#2ab07f"/>
<path d="M188.52 165.73L193.13 167.6L195.73 167.53L191.12 165.55z" fill="#22a884"/>
<path d="M204.97 171.74L209.6 173.97L212.14 174.33L207.52 172z" fill="#1f9e89"/>
<path d="M129.3 159.51L133.84 160.02L136.58 158.3L132.06 157.68z" fill="#32b67a"/>
<path d="M247.09 194.21L251.75 197.31L254.13 198.7L249.49 195.49z" fill="#2b758e"/>
<path d="M277.37 215.97L282.03 219.67L284.28 221.75L279.64 217.95z" fill="#3d4d8a"/>
<path d="M102.97 165.79L107.44 165.66L110.24 163.14L105.76 163.17z" fill="#26ad81"/>
<path d="M226.04 181.84L230.69 184.51L233.15 185.39L228.52 182.61z" fill="#228c8d"/>
<path d="M176.67 162.73L181.28 164.33L183.91 163.94L179.32 162.23z" fill="#28ae80"/>
<path d="M141.13 159L145.68 159.78L148.4 158.4L143.86 157.51z" fill="#34b679"/>
<path d="M95.7 168.86L100.16 168.54L102.97 165.79L98.51 166z" fill="#23a983"/>
<path d="M164.82 160.61L169.41 161.94L172.08 161.21L167.49 159.78z" fill="#2fb47c"/>
<path d="M152.97 159.37L157.54 160.42L160.24 159.37L155.67 158.2z" fill="#32b67a"/>
<path d="M88.44 172.34L92.88 171.84L95.7 168.86L91.26 169.26z" fill="#20a386"/>
<path d="M122.02 161.14L126.54 161.47L129.3 159.51L124.79 159.09z" fill="#31b57b"/>
<path d="M251.75 197.31L256.41 200.5L258.77 201.99L254.13 198.7z" fill="#2c718e"/>
<path d="M209.6 173.97L214.24 176.29L216.77 176.75L212.14 174.33z" fill="#1e9b8a"/>
<path d="M193.13 167.6L197.76 169.56L200.34 169.6L195.73 167.53z" fill="#22a785"/>
<path d="M230.69 184.51L235.35 187.26L237.79 188.24L233.15 185.39z" fill="#23898e"/>
<path d="M114.73 163.19L119.24 163.32L122.02 161.14L117.51 160.9z" fill="#2eb37c"/>
<path d="M256.41 200.5L261.07 203.77L263.41 205.36L258.77 201.99z" fill="#2e6d8e"/>
<path d="M133.84 160.02L138.38 160.62L141.13 159L136.58 158.3z" fill="#34b679"/>
<path d="M181.28 164.33L185.9 166.02L188.52 165.73L183.91 163.94z" fill="#28ae80"/>
<path d="M214.24 176.29L218.89 178.69L221.4 179.25L216.77 176.75z" fill="#1f998a"/>
<path d="M197.76 169.56L202.4 171.6L204.97 171.74L200.34 169.6z" fill="#21a585"/>
<path d="M145.68 159.78L150.25 160.65L152.97 159.37L148.4 158.4z" fill="#35b779"/>
<path d="M107.44 165.66L111.94 165.6L114.73 163.19L110.24 163.14z" fill="#29af7f"/>
<path d="M169.41 161.94L174.02 163.35L176.67 162.73L172.08 161.21z" fill="#2eb37c"/>
<path d="M235.35 187.26L240.01 190.1L242.44 191.18L237.79 188.24z" fill="#25858e"/>
<path d="M261.07 203.77L265.74 207.13L268.06 208.81L263.41 205.36z" fill="#31688e"/>
<path d="M157.54 160.42L162.13 161.56L164.82 160.61L160.24 159.37z" fill="#34b679"/>
<path d="M126.54 161.47L131.07 161.87L133.84 160.02L129.3 159.51z" fill="#34b679"/>
<path d="M100.16 168.54L104.64 168.3L107.44 165.66L102.97 165.79z" fill="#25ac82"/>
<path d="M92.88 171.84L97.34 171.41L100.16 168.54L95.7 168.86z" fill="#22a785"/>
<path d="M265.74 207.13L270.41 210.56L272.72 212.35L268.06 208.81z" fill="#33638d"/>
<path d="M185.9 166.02L190.53 167.78L193.13 167.6L188.52 165.73z" fill="#26ad81"/>
<path d="M218.89 178.69L223.54 181.17L226.04 181.84L221.4 179.25z" fill="#1f968b"/>
<path d="M85.61 175.55L90.05 174.94L92.88 171.84L88.44 172.34z" fill="#1fa187"/>
<path d="M240.01 190.1L244.67 193.02L247.09 194.21L242.44 191.18z" fill="#26828e"/>
<path d="M202.4 171.6L207.04 173.73L209.6 173.97L204.97 171.74z" fill="#20a386"/>
<path d="M138.38 160.62L142.94 161.29L145.68 159.78L141.13 159z" fill="#37b878"/>
<path d="M119.24 163.32L123.76 163.54L126.54 161.47L122.02 161.14z" fill="#31b57b"/>
<path d="M174.02 163.35L178.63 164.84L181.28 164.33L176.67 162.73z" fill="#2eb37c"/>
<path d="M270.41 210.56L275.08 214.08L277.37 215.97L272.72 212.35z" fill="#355e8d"/>
<path d="M150.25 160.65L154.83 161.59L157.54 160.42L152.97 159.37z" fill="#37b878"/>
<path d="M162.13 161.56L166.73 162.78L169.41 161.94L164.82 160.61z" fill="#34b679"/>
<path d="M244.67 193.02L249.35 196.02L251.75 197.31L247.09 194.21z" fill="#277e8e"/>
<path d="M223.54 181.17L228.21 183.74L230.69 184.51L226.04 181.84z" fill="#20938c"/>
<path d="M111.94 165.6L116.45 165.63L119.24 163.32L114.73 163.19z" fill="#2db27d"/>
<path d="M190.53 167.78L195.16 169.64L197.76 169.56L193.13 167.6z" fill="#25ac82"/>
<path d="M275.08 214.08L279.76 217.69L282.03 219.67L277.37 215.97z" fill="#38588c"/>
<path d="M131.07 161.87L135.63 162.35L138.38 160.62L133.84 160.02z" fill="#37b878"/>
<path d="M207.04 173.73L211.7 175.94L214.24 176.29L209.6 173.97z" fill="#1fa187"/>
<path d="M104.64 168.3L109.13 168.13L111.94 165.6L107.44 165.66z" fill="#29af7f"/>
<path d="M249.35 196.02L254.02 199.11L256.41 200.5L251.75 197.31z" fill="#297a8e"/>
<path d="M178.63 164.84L183.26 166.42L185.9 166.02L181.28 164.33z" fill="#2db27d"/>
<path d="M97.34 171.41L101.82 171.06L104.64 168.3L100.16 168.54z" fill="#25ab82"/>
<path d="M142.94 161.29L147.52 162.04L150.25 160.65L145.68 159.78z" fill="#38b977"/>
<path d="M228.21 183.74L232.88 186.39L235.35 187.26L230.69 184.51z" fill="#21918c"/>
<path d="M90.05 174.94L94.51 174.4L97.34 171.41L92.88 171.84z" fill="#21a585"/>
<path d="M82.77 178.88L87.22 178.16L90.05 174.94L85.61 175.55z" fill="#1fa088"/>
<path d="M123.76 163.54L128.3 163.83L131.07 161.87L126.54 161.47z" fill="#34b679"/>
<path d="M166.73 162.78L171.35 164.08L174.02 163.35L169.41 161.94z" fill="#34b679"/>
<path d="M154.83 161.59L159.43 162.62L162.13 161.56L157.54 160.42z" fill="#38b977"/>
<path d="M195.16 169.64L199.81 171.57L202.4 171.6L197.76 169.56z" fill="#24aa83"/>
<path d="M211.7 175.94L216.36 178.23L218.89 178.69L214.24 176.29z" fill="#1f9f88"/>
<path d="M254.02 199.11L258.7 202.28L261.07 203.77L256.41 200.5z" fill="#2b758e"/>
<path d="M232.88 186.39L237.55 189.12L240.01 190.1L235.35 187.26z" fill="#228d8d"/>
<path d="M116.45 165.63L120.97 165.73L123.76 163.54L119.24 163.32z" fill="#31b57b"/>
<path d="M135.63 162.35L140.19 162.91L142.94 161.29L138.38 160.62z" fill="#38b977"/>
<path d="M183.26 166.42L187.9 168.08L190.53 167.78L185.9 166.02z" fill="#2cb17e"/>
<path d="M258.7 202.28L263.39 205.54L265.74 207.13L261.07 203.77z" fill="#2c718e"/>
<path d="M109.13 168.13L113.64 168.05L116.45 165.63L111.94 165.6z" fill="#2db27d"/>
<path d="M216.36 178.23L221.03 180.61L223.54 181.17L218.89 178.69z" fill="#1e9d89"/>
<path d="M147.52 162.04L152.11 162.88L154.83 161.59L150.25 160.65z" fill="#3aba76"/>
<path d="M171.35 164.08L175.97 165.46L178.63 164.84L174.02 163.35z" fill="#34b679"/>
<path d="M199.81 171.57L204.47 173.59L207.04 173.73L202.4 171.6z" fill="#23a983"/>
<path d="M159.43 162.62L164.04 163.73L166.73 162.78L162.13 161.56z" fill="#38b977"/>
<path d="M237.55 189.12L242.24 191.94L244.67 193.02L240.01 190.1z" fill="#238a8d"/>
<path d="M101.82 171.06L106.32 170.79L109.13 168.13L104.64 168.3z" fill="#28ae80"/>
<path d="M263.39 205.54L268.08 208.87L270.41 210.56L265.74 207.13z" fill="#2e6d8e"/>
<path d="M128.3 163.83L132.86 164.21L135.63 162.35L131.07 161.87z" fill="#38b977"/>
<path d="M94.51 174.4L98.99 173.95L101.82 171.06L97.34 171.41z" fill="#24aa83"/>
<path d="M79.93 182.34L84.37 181.51L87.22 178.16L82.77 178.88z" fill="#1e9d89"/>
<path d="M87.22 178.16L91.68 177.52L94.51 174.4L90.05 174.94z" fill="#20a386"/>
<path d="M187.9 168.08L192.55 169.82L195.16 169.64L190.53 167.78z" fill="#2ab07f"/>
<path d="M221.03 180.61L225.71 183.07L228.21 183.74L223.54 181.17z" fill="#1f9a8a"/>
<path d="M268.08 208.87L272.78 212.3L275.08 214.08L270.41 210.56z" fill="#31688e"/>
<path d="M242.24 191.94L246.93 194.84L249.35 196.02L244.67 193.02z" fill="#24868e"/>
<path d="M140.19 162.91L144.78 163.56L147.52 162.04L142.94 161.29z" fill="#3bbb75"/>
<path d="M120.97 165.73L125.52 165.92L128.3 163.83L123.76 163.54z" fill="#35b779"/>
<path d="M204.47 173.59L209.14 175.69L211.7 175.94L207.04 173.73z" fill="#22a785"/>
<path d="M175.97 165.46L180.61 166.93L183.26 166.42L178.63 164.84z" fill="#32b67a"/>
<path d="M152.11 162.88L156.71 163.8L159.43 162.62L154.83 161.59z" fill="#3bbb75"/>
<path d="M164.04 163.73L168.66 164.92L171.35 164.08L166.73 162.78z" fill="#38b977"/>
<path d="M272.78 212.3L277.47 215.8L279.76 217.69L275.08 214.08z" fill="#33638d"/>
<path d="M113.64 168.05L118.18 168.05L120.97 165.73L116.45 165.63z" fill="#31b57b"/>
<path d="M246.93 194.84L251.62 197.82L254.02 199.11L249.35 196.02z" fill="#26828e"/>
<path d="M225.71 183.07L230.39 185.61L232.88 186.39L228.21 183.74z" fill="#1f978b"/>
<path d="M132.86 164.21L137.43 164.66L140.19 162.91L135.63 162.35z" fill="#3bbb75"/>
<path d="M192.55 169.82L197.21 171.65L199.81 171.57L195.16 169.64z" fill="#29af7f"/>
<path d="M106.32 170.79L110.83 170.6L113.64 168.05L109.13 168.13z" fill="#2cb17e"/>
<path d="M209.14 175.69L213.81 177.88L216.36 178.23L211.7 175.94z" fill="#21a585"/>
<path d="M98.99 173.95L103.49 173.57L106.32 170.79L101.82 171.06z" fill="#27ad81"/>
<path d="M251.62 197.82L256.32 200.89L258.7 202.28L254.02 199.11z" fill="#277e8e"/>
<path d="M144.78 163.56L149.37 164.29L152.11 162.88L147.52 162.04z" fill="#3dbc74"/>
<path d="M180.61 166.93L185.26 168.49L187.9 168.08L183.26 166.42z" fill="#31b57b"/>
<path d="M77.08 185.92L81.52 184.98L84.37 181.51L79.93 182.34z" fill="#1f9a8a"/>
<path d="M91.68 177.52L96.16 176.96L98.99 173.95L94.51 174.4z" fill="#22a884"/>
<path d="M84.37 181.51L88.83 180.76L91.68 177.52L87.22 178.16z" fill="#1fa187"/>
<path d="M230.39 185.61L235.08 188.24L237.55 189.12L232.88 186.39z" fill="#1f948c"/>
<path d="M125.52 165.92L130.08 166.18L132.86 164.21L128.3 163.83z" fill="#38b977"/>
<path d="M156.71 163.8L161.33 164.8L164.04 163.73L159.43 162.62z" fill="#3dbc74"/>
<path d="M168.66 164.92L173.3 166.2L175.97 165.46L171.35 164.08z" fill="#38b977"/>
<path d="M197.21 171.65L201.88 173.56L204.47 173.59L199.81 171.57z" fill="#27ad81"/>
<path d="M213.81 177.88L218.49 180.15L221.03 180.61L216.36 178.23z" fill="#1fa287"/>
<path d="M256.32 200.89L261.02 204.05L263.39 205.54L258.7 202.28z" fill="#297a8e"/>
<path d="M118.18 168.05L122.72 168.12L125.52 165.92L120.97 165.73z" fill="#35b779"/>
<path d="M137.43 164.66L142.02 165.2L144.78 163.56L140.19 162.91z" fill="#3dbc74"/>
<path d="M235.08 188.24L239.78 190.96L242.24 191.94L237.55 189.12z" fill="#21918c"/>
<path d="M185.26 168.49L189.92 170.12L192.55 169.82L187.9 168.08z" fill="#31b57b"/>
<path d="M110.83 170.6L115.37 170.48L118.18 168.05L113.64 168.05z" fill="#31b57b"/>
<path d="M261.02 204.05L265.73 207.28L268.08 208.87L263.39 205.54z" fill="#2a768e"/>
<path d="M149.37 164.29L153.98 165.1L156.71 163.8L152.11 162.88z" fill="#3fbc73"/>
<path d="M218.49 180.15L223.19 182.51L225.71 183.07L221.03 180.61z" fill="#1fa188"/>
<path d="M173.3 166.2L177.94 167.56L180.61 166.93L175.97 165.46z" fill="#38b977"/>
<path d="M201.88 173.56L206.56 175.56L209.14 175.69L204.47 173.59z" fill="#26ad81"/>
<path d="M161.33 164.8L165.96 165.89L168.66 164.92L164.04 163.73z" fill="#3dbc74"/>
<path d="M103.49 173.57L108.01 173.27L110.83 170.6L106.32 170.79z" fill="#2ab07f"/>
<path d="M130.08 166.18L134.66 166.53L137.43 164.66L132.86 164.21z" fill="#3dbc74"/>
<path d="M239.78 190.96L244.49 193.76L246.93 194.84L242.24 191.94z" fill="#218e8d"/>
<path d="M74.22 189.62L78.66 188.58L81.52 184.98L77.08 185.92z" fill="#1f978b"/>
<path d="M96.16 176.96L100.66 176.47L103.49 173.57L98.99 173.95z" fill="#25ac82"/>
<path d="M265.73 207.28L270.45 210.6L272.78 212.3L268.08 208.87z" fill="#2c718e"/>
<path d="M81.52 184.98L85.98 184.13L88.83 180.76L84.37 181.51z" fill="#1f9f88"/>
<path d="M88.83 180.76L93.32 180.09L96.16 176.96L91.68 177.52z" fill="#21a685"/>
<path d="M189.92 170.12L194.59 171.84L197.21 171.65L192.55 169.82z" fill="#2fb47c"/>
<path d="M142.02 165.2L146.62 165.82L149.37 164.29L144.78 163.56z" fill="#40bd72"/>
<path d="M223.19 182.51L227.89 184.95L230.39 185.61L225.71 183.07z" fill="#1f9e89"/>
<path d="M122.72 168.12L127.29 168.28L130.08 166.18L125.52 165.92z" fill="#3aba76"/>
<path d="M244.49 193.76L249.2 196.64L251.62 197.82L246.93 194.84z" fill="#238a8d"/>
<path d="M206.56 175.56L211.25 177.64L213.81 177.88L209.14 175.69z" fill="#25ab82"/>
<path d="M270.45 210.6L275.16 214.01L277.47 215.8L272.78 212.3z" fill="#2e6d8e"/>
<path d="M177.94 167.56L182.6 169.01L185.26 168.49L180.61 166.93z" fill="#38b977"/>
<path d="M153.98 165.1L158.61 165.99L161.33 164.8L156.71 163.8z" fill="#40bd72"/>
<path d="M165.96 165.89L170.6 167.06L173.3 166.2L168.66 164.92z" fill="#3fbc73"/>
<path d="M115.37 170.48L119.92 170.45L122.72 168.12L118.18 168.05z" fill="#35b779"/>
<path d="M134.66 166.53L139.25 166.96L142.02 165.2L137.43 164.66z" fill="#40bd72"/>
<path d="M227.89 184.95L232.59 187.48L235.08 188.24L230.39 185.61z" fill="#1e9b8a"/>
<path d="M249.2 196.64L253.92 199.61L256.32 200.89L251.62 197.82z" fill="#24868e"/>
<path d="M194.59 171.84L199.27 173.65L201.88 173.56L197.21 171.65z" fill="#2db27d"/>
<path d="M108.01 173.27L112.55 173.04L115.37 170.48L110.83 170.6z" fill="#2fb47c"/>
<path d="M71.36 193.45L75.8 192.3L78.66 188.58L74.22 189.62z" fill="#1f948c"/>
<path d="M211.25 177.64L215.94 179.81L218.49 180.15L213.81 177.88z" fill="#23a983"/>
<path d="M100.66 176.47L105.18 176.06L108.01 173.27L103.49 173.57z" fill="#29af7f"/>
<path d="M78.66 188.58L83.12 187.62L85.98 184.13L81.52 184.98z" fill="#1e9d89"/>
<path d="M146.62 165.82L151.24 166.52L153.98 165.1L149.37 164.29z" fill="#42be71"/>
<path d="M93.32 180.09L97.82 179.49L100.66 176.47L96.16 176.96z" fill="#24aa83"/>
<path d="M85.98 184.13L90.47 183.35L93.32 180.09L88.83 180.76z" fill="#20a386"/>
<path d="M182.6 169.01L187.27 170.54L189.92 170.12L185.26 168.49z" fill="#37b878"/>
<path d="M127.29 168.28L131.87 168.52L134.66 166.53L130.08 166.18z" fill="#3dbc74"/>
<path d="M253.92 199.61L258.64 202.66L261.02 204.05L256.32 200.89z" fill="#26828e"/>
<path d="M158.61 165.99L163.25 166.97L165.96 165.89L161.33 164.8z" fill="#42be71"/>
<path d="M232.59 187.48L237.31 190.08L239.78 190.96L235.08 188.24z" fill="#1f988b"/>
<path d="M170.6 167.06L175.26 168.31L177.94 167.56L173.3 166.2z" fill="#3fbc73"/>
<path d="M199.27 173.65L203.96 175.54L206.56 175.56L201.88 173.56z" fill="#2cb17e"/>
<path d="M215.94 179.81L220.65 182.06L223.19 182.51L218.49 180.15z" fill="#21a685"/>
<path d="M119.92 170.45L124.49 170.5L127.29 168.28L122.72 168.12z" fill="#3aba76"/>
<path d="M258.64 202.66L263.37 205.79L265.73 207.28L261.02 204.05z" fill="#277f8e"/>
<path d="M139.25 166.96L143.86 167.47L146.62 165.82L142.02 165.2z" fill="#42be71"/>
<path d="M237.31 190.08L242.03 192.78L244.49 193.76L239.78 190.96z" fill="#1f958b"/>
<path d="M187.27 170.54L191.95 172.15L194.59 171.84L189.92 170.12z" fill="#35b779"/>
<path d="M112.55 173.04L117.1 172.9L119.92 170.45L115.37 170.48z" fill="#34b679"/>
<path d="M151.24 166.52L155.87 167.3L158.61 165.99L153.98 165.1z" fill="#46c06f"/>
<path d="M68.49 197.4L72.93 196.15L75.8 192.3L71.36 193.45z" fill="#21918c"/>
<path d="M263.37 205.79L268.1 209.01L270.45 210.6L265.73 207.28z" fill="#297a8e"/>
<path d="M175.26 168.31L179.93 169.65L182.6 169.01L177.94 167.56z" fill="#3fbc73"/>
<path d="M105.18 176.06L109.72 175.73L112.55 173.04L108.01 173.27z" fill="#2eb37c"/>
<path d="M163.25 166.97L167.9 168.03L170.6 167.06L165.96 165.89z" fill="#44bf70"/>
<path d="M220.65 182.06L225.36 184.39L227.89 184.95L223.19 182.51z" fill="#20a486"/>
<path d="M203.96 175.54L208.66 177.51L211.25 177.64L206.56 175.56z" fill="#29af7f"/>
<path d="M75.8 192.3L80.26 191.23L83.12 187.62L78.66 188.58z" fill="#1f998a"/>
<path d="M131.87 168.52L136.47 168.84L139.25 166.96L134.66 166.53z" fill="#42be71"/>
<path d="M97.82 179.49L102.34 178.98L105.18 176.06L100.66 176.47z" fill="#28ae80"/>
<path d="M83.12 187.62L87.61 186.73L90.47 183.35L85.98 184.13z" fill="#1fa187"/>
<path d="M90.47 183.35L94.97 182.65L97.82 179.49L93.32 180.09z" fill="#22a884"/>
<path d="M242.03 192.78L246.76 195.56L249.2 196.64L244.49 193.76z" fill="#20928c"/>
<path d="M268.1 209.01L272.83 212.32L275.16 214.01L270.45 210.6z" fill="#2a768e"/>
<path d="M191.95 172.15L196.65 173.85L199.27 173.65L194.59 171.84z" fill="#34b679"/>
<path d="M124.49 170.5L129.07 170.63L131.87 168.52L127.29 168.28z" fill="#3fbc73"/>
<path d="M143.86 167.47L148.48 168.06L151.24 166.52L146.62 165.82z" fill="#46c06f"/>
<path d="M225.36 184.39L230.09 186.81L232.59 187.48L227.89 184.95z" fill="#1fa187"/>
<path d="M208.66 177.51L213.37 179.57L215.94 179.81L211.25 177.64z" fill="#28ae80"/>
<path d="M246.76 195.56L251.49 198.42L253.92 199.61L249.2 196.64z" fill="#218f8d"/>
<path d="M179.93 169.65L184.61 171.07L187.27 170.54L182.6 169.01z" fill="#3dbc74"/>
<path d="M155.87 167.3L160.52 168.17L163.25 166.97L158.61 165.99z" fill="#48c16e"/>
<path d="M167.9 168.03L172.56 169.17L175.26 168.31L170.6 167.06z" fill="#44bf70"/>
<path d="M117.1 172.9L121.67 172.84L124.49 170.5L119.92 170.45z" fill="#3aba76"/>
<path d="M65.62 201.48L70.05 200.13L72.93 196.15L68.49 197.4z" fill="#228d8d"/>
<path d="M136.47 168.84L141.08 169.24L143.86 167.47L139.25 166.96z" fill="#46c06f"/>
<path d="M109.72 175.73L114.28 175.48L117.1 172.9L112.55 173.04z" fill="#34b679"/>
<path d="M230.09 186.81L234.82 189.32L237.31 190.08L232.59 187.48z" fill="#1fa088"/>
<path d="M72.93 196.15L77.38 194.98L80.26 191.23L75.8 192.3z" fill="#1f968b"/>
<path d="M196.65 173.85L201.35 175.63L203.96 175.54L199.27 173.65z" fill="#32b67a"/>
<path d="M251.49 198.42L256.23 201.37L258.64 202.66L253.92 199.61z" fill="#228b8d"/>
<path d="M102.34 178.98L106.88 178.54L109.72 175.73L105.18 176.06z" fill="#2db27d"/>
<path d="M213.37 179.57L218.09 181.72L220.65 182.06L215.94 179.81z" fill="#26ad81"/>
<path d="M80.26 191.23L84.74 190.24L87.61 186.73L83.12 187.62z" fill="#1f9f88"/>
<path d="M94.97 182.65L99.49 182.02L102.34 178.98L97.82 179.49z" fill="#26ad81"/>
<path d="M87.61 186.73L92.11 185.92L94.97 182.65L90.47 183.35z" fill="#21a685"/>
<path d="M148.48 168.06L153.12 168.73L155.87 167.3L151.24 166.52z" fill="#4ac16d"/>
<path d="M184.61 171.07L189.3 172.57L191.95 172.15L187.27 170.54z" fill="#3dbc74"/>
<path d="M129.07 170.63L133.68 170.84L136.47 168.84L131.87 168.52z" fill="#42be71"/>
<path d="M160.52 168.17L165.18 169.12L167.9 168.03L163.25 166.97z" fill="#48c16e"/>
<path d="M172.56 169.17L177.24 170.4L179.93 169.65L175.26 168.31z" fill="#44bf70"/>
<path d="M256.23 201.37L260.98 204.4L263.37 205.79L258.64 202.66z" fill="#24878e"/>
<path d="M234.82 189.32L239.55 191.91L242.03 192.78L237.31 190.08z" fill="#1e9d89"/>
<path d="M201.35 175.63L206.06 177.5L208.66 177.51L203.96 175.54z" fill="#31b57b"/>
<path d="M121.67 172.84L126.26 172.86L129.07 170.63L124.49 170.5z" fill="#3fbc73"/>
<path d="M218.09 181.72L222.82 183.95L225.36 184.39L220.65 182.06z" fill="#25ab82"/>
<path d="M62.73 205.69L67.16 204.23L70.05 200.13L65.62 201.48z" fill="#23898e"/>
<path d="M141.08 169.24L145.71 169.72L148.48 168.06L143.86 167.47z" fill="#4ac16d"/>
<path d="M260.98 204.4L265.73 207.52L268.1 209.01L263.37 205.79z" fill="#25838e"/>
<path d="M114.28 175.48L118.85 175.31L121.67 172.84L117.1 172.9z" fill="#38b977"/>
<path d="M189.3 172.57L194.01 174.16L196.65 173.85L191.95 172.15z" fill="#3bbb75"/>
<path d="M239.55 191.91L244.3 194.58L246.76 195.56L242.03 192.78z" fill="#1f998a"/>
<path d="M70.05 200.13L74.5 198.84L77.38 194.98L72.93 196.15z" fill="#20938c"/>
<path d="M153.12 168.73L157.78 169.49L160.52 168.17L155.87 167.3z" fill="#4cc26c"/>
<path d="M106.88 178.54L111.44 178.18L114.28 175.48L109.72 175.73z" fill="#32b67a"/>
<path d="M177.24 170.4L181.93 171.71L184.61 171.07L179.93 169.65z" fill="#44bf70"/>
<path d="M77.38 194.98L81.86 193.88L84.74 190.24L80.26 191.23z" fill="#1e9c89"/>
<path d="M165.18 169.12L169.85 170.16L172.56 169.17L167.9 168.03z" fill="#4ac16d"/>
<path d="M133.68 170.84L138.3 171.13L141.08 169.24L136.47 168.84z" fill="#48c16e"/>
<path d="M265.73 207.52L270.48 210.72L272.83 212.32L268.1 209.01z" fill="#277f8e"/>
<path d="M99.49 182.02L104.03 181.47L106.88 178.54L102.34 178.98z" fill="#2ab07f"/>
<path d="M206.06 177.5L210.79 179.45L213.37 179.57L208.66 177.51z" fill="#2eb37c"/>
<path d="M222.82 183.95L227.56 186.26L230.09 186.81L225.36 184.39z" fill="#22a884"/>
<path d="M84.74 190.24L89.24 189.32L92.11 185.92L87.61 186.73z" fill="#20a386"/>
<path d="M92.11 185.92L96.63 185.19L99.49 182.02L94.97 182.65z" fill="#25ab82"/>
<path d="M244.3 194.58L249.05 197.34L251.49 198.42L246.76 195.56z" fill="#1f968b"/>
<path d="M126.26 172.86L130.87 172.96L133.68 170.84L129.07 170.63z" fill="#44bf70"/>
<path d="M145.71 169.72L150.36 170.28L153.12 168.73L148.48 168.06z" fill="#4cc26c"/>
<path d="M194.01 174.16L198.72 175.83L201.35 175.63L196.65 173.85z" fill="#3aba76"/>
<path d="M59.85 210.02L64.27 208.45L67.16 204.23L62.73 205.69z" fill="#25858e"/>
<path d="M227.56 186.26L232.31 188.66L234.82 189.32L230.09 186.81z" fill="#21a685"/>
<path d="M210.79 179.45L215.52 181.49L218.09 181.72L213.37 179.57z" fill="#2db27d"/>
<path d="M157.78 169.49L162.44 170.33L165.18 169.12L160.52 168.17z" fill="#4ec36b"/>
<path d="M181.93 171.71L186.64 173.11L189.3 172.57L184.61 171.07z" fill="#44bf70"/>
<path d="M118.85 175.31L123.44 175.22L126.26 172.86L121.67 172.84z" fill="#3fbc73"/>
<path d="M249.05 197.34L253.81 200.19L256.23 201.37L251.49 198.42z" fill="#20928c"/>
<path d="M169.85 170.16L174.54 171.27L177.24 170.4L172.56 169.17z" fill="#4cc26c"/>
<path d="M67.16 204.23L71.62 202.84L74.5 198.84L70.05 200.13z" fill="#21908d"/>
<path d="M138.3 171.13L142.93 171.5L145.71 169.72L141.08 169.24z" fill="#4cc26c"/>
<path d="M111.44 178.18L116.02 177.9L118.85 175.31L114.28 175.48z" fill="#38b977"/>
<path d="M74.5 198.84L78.98 197.64L81.86 193.88L77.38 194.98z" fill="#1f998a"/>
<path d="M198.72 175.83L203.45 177.59L206.06 177.5L201.35 175.63z" fill="#38b977"/>
<path d="M104.03 181.47L108.59 181L111.44 178.18L106.88 178.54z" fill="#31b57b"/>
<path d="M232.31 188.66L237.06 191.14L239.55 191.91L234.82 189.32z" fill="#20a386"/>
<path d="M81.86 193.88L86.37 192.85L89.24 189.32L84.74 190.24z" fill="#1fa187"/>
<path d="M253.81 200.19L258.57 203.12L260.98 204.4L256.23 201.37z" fill="#21908d"/>
<path d="M96.63 185.19L101.17 184.53L104.03 181.47L99.49 182.02z" fill="#29af7f"/>
<path d="M89.24 189.32L93.76 188.48L96.63 185.19L92.11 185.92z" fill="#23a983"/>
<path d="M215.52 181.49L220.26 183.61L222.82 183.95L218.09 181.72z" fill="#2ab07f"/>
<path d="M150.36 170.28L155.02 170.93L157.78 169.49L153.12 168.73z" fill="#50c46a"/>
<path d="M130.87 172.96L135.5 173.14L138.3 171.13L133.68 170.84z" fill="#48c16e"/>
<path d="M56.95 214.48L61.38 212.8L64.27 208.45L59.85 210.02z" fill="#26818e"/>
<path d="M186.64 173.11L191.35 174.59L194.01 174.16L189.3 172.57z" fill="#44bf70"/>
<path d="M162.44 170.33L167.13 171.26L169.85 170.16L165.18 169.12z" fill="#50c46a"/>
<path d="M174.54 171.27L179.24 172.48L181.93 171.71L177.24 170.4z" fill="#4cc26c"/>
<path d="M258.57 203.12L263.34 206.13L265.73 207.52L260.98 204.4z" fill="#228c8d"/>
<path d="M237.06 191.14L241.82 193.71L244.3 194.58L239.55 191.91z" fill="#1fa188"/>
<path d="M123.44 175.22L128.06 175.21L130.87 172.96L126.26 172.86z" fill="#44bf70"/>
<path d="M64.27 208.45L68.72 206.96L71.62 202.84L67.16 204.23z" fill="#228b8d"/>
<path d="M203.45 177.59L208.18 179.44L210.79 179.45L206.06 177.5z" fill="#37b878"/>
<path d="M142.93 171.5L147.58 171.95L150.36 170.28L145.71 169.72z" fill="#50c46a"/>
<path d="M220.26 183.61L225.02 185.81L227.56 186.26L222.82 183.95z" fill="#28ae80"/>
<path d="M116.02 177.9L120.61 177.7L123.44 175.22L118.85 175.31z" fill="#3dbc74"/>
<path d="M71.62 202.84L76.09 201.52L78.98 197.64L74.5 198.84z" fill="#1f958b"/>
<path d="M263.34 206.13L268.11 209.23L270.48 210.72L265.73 207.52z" fill="#24878e"/>
<path d="M191.35 174.59L196.08 176.15L198.72 175.83L194.01 174.16z" fill="#42be71"/>
<path d="M155.02 170.93L159.7 171.66L162.44 170.33L157.78 169.49z" fill="#52c569"/>
<path d="M241.82 193.71L246.59 196.37L249.05 197.34L244.3 194.58z" fill="#1f9e89"/>
<path d="M108.59 181L113.17 180.61L116.02 177.9L111.44 178.18z" fill="#37b878"/>
<path d="M78.98 197.64L83.48 196.5L86.37 192.85L81.86 193.88z" fill="#1f9f88"/>
<path d="M179.24 172.48L183.95 173.76L186.64 173.11L181.93 171.71z" fill="#4cc26c"/>
<path d="M167.13 171.26L171.82 172.26L174.54 171.27L169.85 170.16z" fill="#52c569"/>
<path d="M135.5 173.14L140.14 173.4L142.93 171.5L138.3 171.13z" fill="#4ec36b"/>
<path d="M101.17 184.53L105.74 183.95L108.59 181L104.03 181.47z" fill="#2eb37c"/>
<path d="M86.37 192.85L90.89 191.9L93.76 188.48L89.24 189.32z" fill="#21a685"/>
<path d="M54.06 219.06L58.48 217.28L61.38 212.8L56.95 214.48z" fill="#287c8e"/>
<path d="M93.76 188.48L98.31 187.72L101.17 184.53L96.63 185.19z" fill="#27ad81"/>
<path d="M208.18 179.44L212.93 181.37L215.52 181.49L210.79 179.45z" fill="#35b779"/>
<path d="M225.02 185.81L229.78 188.11L232.31 188.66L227.56 186.26z" fill="#26ad81"/>
<path d="M246.59 196.37L251.36 199.11L253.81 200.19L249.05 197.34z" fill="#1e9b8a"/>
<path d="M128.06 175.21L132.68 175.28L135.5 173.14L130.87 172.96z" fill="#4ac16d"/>
<path d="M61.38 212.8L65.82 211.2L68.72 206.96L64.27 208.45z" fill="#24878e"/>
<path d="M147.58 171.95L152.25 172.49L155.02 170.93L150.36 170.28z" fill="#54c568"/>
<path d="M196.08 176.15L200.82 177.8L203.45 177.59L198.72 175.83z" fill="#40bd72"/>
<path d="M229.78 188.11L234.54 190.48L237.06 191.14L232.31 188.66z" fill="#24aa83"/>
<path d="M159.7 171.66L164.39 172.48L167.13 171.26L162.44 170.33z" fill="#56c667"/>
<path d="M120.61 177.7L125.23 177.58L128.06 175.21L123.44 175.22z" fill="#44bf70"/>
<path d="M68.72 206.96L73.2 205.54L76.09 201.52L71.62 202.84z" fill="#20928c"/>
<path d="M183.95 173.76L188.68 175.13L191.35 174.59L186.64 173.11z" fill="#4cc26c"/>
<path d="M212.93 181.37L217.69 183.38L220.26 183.61L215.52 181.49z" fill="#32b67a"/>
<path d="M171.82 172.26L176.53 173.36L179.24 172.48L174.54 171.27z" fill="#52c569"/>
<path d="M251.36 199.11L256.14 201.93L258.57 203.12L253.81 200.19z" fill="#1f978b"/>
<path d="M51.15 223.77L55.57 221.89L58.48 217.28L54.06 219.06z" fill="#2a778e"/>
<path d="M140.14 173.4L144.79 173.75L147.58 171.95L142.93 171.5z" fill="#52c569"/>
<path d="M113.17 180.61L117.77 180.3L120.61 177.7L116.02 177.9z" fill="#3dbc74"/>
<path d="M76.09 201.52L80.59 200.28L83.48 196.5L78.98 197.64z" fill="#1e9b8a"/>
<path d="M105.74 183.95L110.32 183.46L113.17 180.61L108.59 181z" fill="#34b679"/>
<path d="M83.48 196.5L88 195.45L90.89 191.9L86.37 192.85z" fill="#20a386"/>
<path d="M98.31 187.72L102.87 187.03L105.74 183.95L101.17 184.53z" fill="#2cb17e"/>
<path d="M90.89 191.9L95.43 191.03L98.31 187.72L93.76 188.48z" fill="#25ab82"/>
<path d="M200.82 177.8L205.56 179.54L208.18 179.44L203.45 177.59z" fill="#3fbc73"/>
<path d="M234.54 190.48L239.32 192.95L241.82 193.71L237.06 191.14z" fill="#22a785"/>
<path d="M256.14 201.93L260.93 204.84L263.34 206.13L258.57 203.12z" fill="#20938c"/>
<path d="M152.25 172.49L156.93 173.11L159.7 171.66L155.02 170.93z" fill="#56c667"/>
<path d="M58.48 217.28L62.92 215.58L65.82 211.2L61.38 212.8z" fill="#26828e"/>
<path d="M217.69 183.38L222.45 185.48L225.02 185.81L220.26 183.61z" fill="#2fb47c"/>
<path d="M132.68 175.28L137.33 175.43L140.14 173.4L135.5 173.14z" fill="#4ec36b"/>
<path d="M188.68 175.13L193.42 176.59L196.08 176.15L191.35 174.59z" fill="#4ac16d"/>
<path d="M164.39 172.48L169.09 173.37L171.82 172.26L167.13 171.26z" fill="#56c667"/>
<path d="M176.53 173.36L181.25 174.53L183.95 173.76L179.24 172.48z" fill="#54c568"/>
<path d="M65.82 211.2L70.3 209.68L73.2 205.54L68.72 206.96z" fill="#218e8d"/>
<path d="M125.23 177.58L129.86 177.54L132.68 175.28L128.06 175.21z" fill="#4ac16d"/>
<path d="M260.93 204.84L265.72 207.84L268.11 209.23L263.34 206.13z" fill="#21918c"/>
<path d="M239.32 192.95L244.1 195.5L246.59 196.37L241.82 193.71z" fill="#21a585"/>
<path d="M48.25 228.6L52.66 226.62L55.57 221.89L51.15 223.77z" fill="#2c718e"/>
<path d="M205.56 179.54L210.32 181.36L212.93 181.37L208.18 179.44z" fill="#3dbc74"/>
<path d="M144.79 173.75L149.47 174.18L152.25 172.49L147.58 171.95z" fill="#56c667"/>
<path d="M222.45 185.48L227.23 187.67L229.78 188.11L225.02 185.81z" fill="#2db27d"/>
<path d="M73.2 205.54L77.69 204.19L80.59 200.28L76.09 201.52z" fill="#1f988b"/>
<path d="M117.77 180.3L122.39 180.07L125.23 177.58L120.61 177.7z" fill="#42be71"/>
<path d="M80.59 200.28L85.11 199.12L88 195.45L83.48 196.5z" fill="#1fa188"/>
<path d="M110.32 183.46L114.92 183.04L117.77 180.3L113.17 180.61z" fill="#3bbb75"/>
<path d="M193.42 176.59L198.17 178.13L200.82 177.8L196.08 176.15z" fill="#4ac16d"/>
<path d="M156.93 173.11L161.63 173.82L164.39 172.48L159.7 171.66z" fill="#5ac864"/>
<path d="M55.57 221.89L60.01 220.08L62.92 215.58L58.48 217.28z" fill="#277e8e"/>
<path d="M88 195.45L92.55 194.46L95.43 191.03L90.89 191.9z" fill="#23a983"/>
<path d="M102.87 187.03L107.45 186.42L110.32 183.46L105.74 183.95z" fill="#32b67a"/>
<path d="M244.1 195.5L248.89 198.13L251.36 199.11L246.59 196.37z" fill="#1fa287"/>
<path d="M137.33 175.43L141.99 175.66L144.79 173.75L140.14 173.4z" fill="#54c568"/>
<path d="M95.43 191.03L99.99 190.23L102.87 187.03L98.31 187.72z" fill="#29af7f"/>
<path d="M181.25 174.53L185.99 175.79L188.68 175.13L183.95 173.76z" fill="#54c568"/>
<path d="M169.09 173.37L173.81 174.36L176.53 173.36L171.82 172.26z" fill="#58c765"/>
<path d="M210.32 181.36L215.09 183.27L217.69 183.38L212.93 181.37z" fill="#3bbb75"/>
<path d="M227.23 187.67L232.01 189.94L234.54 190.48L229.78 188.11z" fill="#2ab07f"/>
<path d="M62.92 215.58L67.39 213.94L70.3 209.68L65.82 211.2z" fill="#23898e"/>
<path d="M129.86 177.54L134.51 177.58L137.33 175.43L132.68 175.28z" fill="#50c46a"/>
<path d="M149.47 174.18L154.16 174.69L156.93 173.11L152.25 172.49z" fill="#5ac864"/>
<path d="M248.89 198.13L253.69 200.85L256.14 201.93L251.36 199.11z" fill="#1f9f88"/>
<path d="M198.17 178.13L202.93 179.76L205.56 179.54L200.82 177.8z" fill="#48c16e"/>
<path d="M70.3 209.68L74.79 208.22L77.69 204.19L73.2 205.54z" fill="#1f948c"/>
<path d="M122.39 180.07L127.03 179.92L129.86 177.54L125.23 177.58z" fill="#4ac16d"/>
<path d="M161.63 173.82L166.34 174.6L169.09 173.37L164.39 172.48z" fill="#5cc863"/>
<path d="M185.99 175.79L190.74 177.14L193.42 176.59L188.68 175.13z" fill="#54c568"/>
<path d="M232.01 189.94L236.8 192.29L239.32 192.95L234.54 190.48z" fill="#28ae80"/>
<path d="M215.09 183.27L219.87 185.26L222.45 185.48L217.69 183.38z" fill="#38b977"/>
<path d="M173.81 174.36L178.54 175.42L181.25 174.53L176.53 173.36z" fill="#5ac864"/>
<path d="M52.66 226.62L57.09 224.7L60.01 220.08L55.57 221.89z" fill="#29798e"/>
<path d="M77.69 204.19L82.21 202.92L85.11 199.12L80.59 200.28z" fill="#1f9e89"/>
<path d="M114.92 183.04L119.54 182.7L122.39 180.07L117.77 180.3z" fill="#42be71"/>
<path d="M141.99 175.66L146.67 175.98L149.47 174.18L144.79 173.75z" fill="#58c765"/>
<path d="M253.69 200.85L258.5 203.66L260.93 204.84L256.14 201.93z" fill="#1e9c89"/>
<path d="M85.11 199.12L89.65 198.03L92.55 194.46L88 195.45z" fill="#21a685"/>
<path d="M107.45 186.42L112.06 185.89L114.92 183.04L110.32 183.46z" fill="#38b977"/>
<path d="M92.55 194.46L97.11 193.56L99.99 190.23L95.43 191.03z" fill="#27ad81"/>
<path d="M99.99 190.23L104.58 189.51L107.45 186.42L102.87 187.03z" fill="#2fb47c"/>
<path d="M202.93 179.76L207.7 181.47L210.32 181.36L205.56 179.54z" fill="#46c06f"/>
<path d="M60.01 220.08L64.47 218.34L67.39 213.94L62.92 215.58z" fill="#25858e"/>
<path d="M154.16 174.69L158.86 175.28L161.63 173.82L156.93 173.11z" fill="#5ec962"/>
<path d="M236.8 192.29L241.6 194.74L244.1 195.5L239.32 192.95z" fill="#25ac82"/>
<path d="M134.51 177.58L139.18 177.7L141.99 175.66L137.33 175.43z" fill="#56c667"/>
<path d="M219.87 185.26L224.66 187.33L227.23 187.67L222.45 185.48z" fill="#35b779"/>
<path d="M258.5 203.66L263.31 206.55L265.72 207.84L260.93 204.84z" fill="#1f988b"/>
<path d="M190.74 177.14L195.5 178.57L198.17 178.13L193.42 176.59z" fill="#52c569"/>
<path d="M166.34 174.6L171.07 175.48L173.81 174.36L169.09 173.37z" fill="#5ec962"/>
<path d="M178.54 175.42L183.29 176.57L185.99 175.79L181.25 174.53z" fill="#5ac864"/>
<path d="M67.39 213.94L71.88 212.38L74.79 208.22L70.3 209.68z" fill="#21908d"/>
<path d="M127.03 179.92L131.68 179.86L134.51 177.58L129.86 177.54z" fill="#50c46a"/>
<path d="M146.67 175.98L151.37 176.38L154.16 174.69L149.47 174.18z" fill="#5ec962"/>
<path d="M241.6 194.74L246.41 197.26L248.89 198.13L244.1 195.5z" fill="#23a983"/>
<path d="M207.7 181.47L212.48 183.26L215.09 183.27L210.32 181.36z" fill="#44bf70"/>
<path d="M74.79 208.22L79.31 206.84L82.21 202.92L77.69 204.19z" fill="#1f9a8a"/>
<path d="M119.54 182.7L124.18 182.44L127.03 179.92L122.39 180.07z" fill="#48c16e"/>
<path d="M224.66 187.33L229.46 189.5L232.01 189.94L227.23 187.67z" fill="#34b679"/>
<path d="M82.21 202.92L86.75 201.72L89.65 198.03L85.11 199.12z" fill="#20a386"/>
<path d="M112.06 185.89L116.68 185.44L119.54 182.7L114.92 183.04z" fill="#40bd72"/>
<path d="M57.09 224.7L61.55 222.86L64.47 218.34L60.01 220.08z" fill="#26818e"/>
<path d="M158.86 175.28L163.58 175.96L166.34 174.6L161.63 173.82z" fill="#60ca60"/>
<path d="M195.5 178.57L200.27 180.09L202.93 179.76L198.17 178.13z" fill="#52c569"/>
<path d="M89.65 198.03L94.22 197.02L97.11 193.56L92.55 194.46z" fill="#25ac82"/>
<path d="M104.58 189.51L109.18 188.87L112.06 185.89L107.45 186.42z" fill="#37b878"/>
<path d="M97.11 193.56L101.7 192.73L104.58 189.51L99.99 190.23z" fill="#2db27d"/>
<path d="M139.18 177.7L143.86 177.91L146.67 175.98L141.99 175.66z" fill="#5ac864"/>
<path d="M171.07 175.48L175.81 176.43L178.54 175.42L173.81 174.36z" fill="#60ca60"/>
<path d="M183.29 176.57L188.04 177.81L190.74 177.14L185.99 175.79z" fill="#5cc863"/>
<path d="M246.41 197.26L251.22 199.88L253.69 200.85L248.89 198.13z" fill="#21a685"/>
<path d="M212.48 183.26L217.27 185.15L219.87 185.26L215.09 183.27z" fill="#42be71"/>
<path d="M64.47 218.34L68.96 216.67L71.88 212.38L67.39 213.94z" fill="#228c8d"/>
<path d="M229.46 189.5L234.27 191.75L236.8 192.29L232.01 189.94z" fill="#2fb47c"/>
<path d="M131.68 179.86L136.35 179.87L139.18 177.7L134.51 177.58z" fill="#56c667"/>
<path d="M151.37 176.38L156.08 176.86L158.86 175.28L154.16 174.69z" fill="#63cb5f"/>
<path d="M251.22 199.88L256.04 202.58L258.5 203.66L253.69 200.85z" fill="#20a386"/>
<path d="M71.88 212.38L76.39 210.9L79.31 206.84L74.79 208.22z" fill="#1f968b"/>
<path d="M200.27 180.09L205.06 181.69L207.7 181.47L202.93 179.76z" fill="#50c46a"/>
<path d="M124.18 182.44L128.84 182.26L131.68 179.86L127.03 179.92z" fill="#50c46a"/>
<path d="M163.58 175.96L168.32 176.72L171.07 175.48L166.34 174.6z" fill="#65cb5e"/>
<path d="M188.04 177.81L192.82 179.13L195.5 178.57L190.74 177.14z" fill="#5cc863"/>
<path d="M79.31 206.84L83.85 205.54L86.75 201.72L82.21 202.92z" fill="#1fa188"/>
<path d="M175.81 176.43L180.57 177.47L183.29 176.57L178.54 175.42z" fill="#63cb5f"/>
<path d="M234.27 191.75L239.08 194.08L241.6 194.74L236.8 192.29z" fill="#2db27d"/>
<path d="M217.27 185.15L222.08 187.12L224.66 187.33L219.87 185.26z" fill="#40bd72"/>
<path d="M116.68 185.44L121.32 185.07L124.18 182.44L119.54 182.7z" fill="#48c16e"/>
<path d="M143.86 177.91L148.56 178.2L151.37 176.38L146.67 175.98z" fill="#60ca60"/>
<path d="M86.75 201.72L91.32 200.6L94.22 197.02L89.65 198.03z" fill="#23a983"/>
<path d="M109.18 188.87L113.81 188.31L116.68 185.44L112.06 185.89z" fill="#3dbc74"/>
<path d="M256.04 202.58L260.87 205.36L263.31 206.55L258.5 203.66z" fill="#1fa188"/>
<path d="M94.22 197.02L98.8 196.08L101.7 192.73L97.11 193.56z" fill="#2ab07f"/>
<path d="M101.7 192.73L106.3 191.98L109.18 188.87L104.58 189.51z" fill="#34b679"/>
<path d="M61.55 222.86L66.04 221.09L68.96 216.67L64.47 218.34z" fill="#24878e"/>
<path d="M205.06 181.69L209.85 183.38L212.48 183.26L207.7 181.47z" fill="#50c46a"/>
<path d="M156.08 176.86L160.81 177.43L163.58 175.96L158.86 175.28z" fill="#65cb5e"/>
<path d="M136.35 179.87L141.04 179.96L143.86 177.91L139.18 177.7z" fill="#5cc863"/>
<path d="M239.08 194.08L243.9 196.5L246.41 197.26L241.6 194.74z" fill="#2ab07f"/>
<path d="M222.08 187.12L226.89 189.17L229.46 189.5L224.66 187.33z" fill="#3dbc74"/>
<path d="M192.82 179.13L197.6 180.54L200.27 180.09L195.5 178.57z" fill="#5ac864"/>
<path d="M68.96 216.67L73.47 215.08L76.39 210.9L71.88 212.38z" fill="#20928c"/>
<path d="M168.32 176.72L173.07 177.56L175.81 176.43L171.07 175.48z" fill="#67cc5c"/>
<path d="M180.57 177.47L185.34 178.6L188.04 177.81L183.29 176.57z" fill="#63cb5f"/>
<path d="M128.84 182.26L133.51 182.16L136.35 179.87L131.68 179.86z" fill="#56c667"/>
<path d="M76.39 210.9L80.93 209.48L83.85 205.54L79.31 206.84z" fill="#1e9d89"/>
<path d="M148.56 178.2L153.28 178.57L156.08 176.86L151.37 176.38z" fill="#65cb5e"/>
<path d="M121.32 185.07L125.98 184.78L128.84 182.26L124.18 182.44z" fill="#4ec36b"/>
<path d="M243.9 196.5L248.74 199.01L251.22 199.88L246.41 197.26z" fill="#27ad81"/>
<path d="M209.85 183.38L214.66 185.15L217.27 185.15L212.48 183.26z" fill="#4ec36b"/>
<path d="M83.85 205.54L88.41 204.31L91.32 200.6L86.75 201.72z" fill="#21a685"/>
<path d="M226.89 189.17L231.71 191.31L234.27 191.75L229.46 189.5z" fill="#3aba76"/>
<path d="M113.81 188.31L118.45 187.83L121.32 185.07L116.68 185.44z" fill="#46c06f"/>
<path d="M91.32 200.6L95.9 199.55L98.8 196.08L94.22 197.02z" fill="#27ad81"/>
<path d="M160.81 177.43L165.55 178.08L168.32 176.72L163.58 175.96z" fill="#69cd5b"/>
<path d="M106.3 191.98L110.93 191.31L113.81 188.31L109.18 188.87z" fill="#3bbb75"/>
<path d="M98.8 196.08L103.41 195.22L106.3 191.98L101.7 192.73z" fill="#31b57b"/>
<path d="M197.6 180.54L202.4 182.03L205.06 181.69L200.27 180.09z" fill="#5ac864"/>
<path d="M141.04 179.96L145.75 180.14L148.56 178.2L143.86 177.91z" fill="#63cb5f"/>
<path d="M173.07 177.56L177.83 178.49L180.57 177.47L175.81 176.43z" fill="#69cd5b"/>
<path d="M185.34 178.6L190.12 179.81L192.82 179.13L188.04 177.81z" fill="#63cb5f"/>
<path d="M248.74 199.01L253.57 201.61L256.04 202.58L251.22 199.88z" fill="#25ab82"/>
<path d="M66.04 221.09L70.54 219.39L73.47 215.08L68.96 216.67z" fill="#218f8d"/>
<path d="M214.66 185.15L219.47 187.01L222.08 187.12L217.27 185.15z" fill="#4ac16d"/>
<path d="M133.51 182.16L138.21 182.14L141.04 179.96L136.35 179.87z" fill="#5cc863"/>
<path d="M231.71 191.31L236.54 193.54L239.08 194.08L234.27 191.75z" fill="#37b878"/>
<path d="M153.28 178.57L158.02 179.02L160.81 177.43L156.08 176.86z" fill="#69cd5b"/>
<path d="M73.47 215.08L78.01 213.56L80.93 209.48L76.39 210.9z" fill="#1f998a"/>
<path d="M125.98 184.78L130.66 184.57L133.51 182.16L128.84 182.26z" fill="#56c667"/>
<path d="M202.4 182.03L207.2 183.61L209.85 183.38L205.06 181.69z" fill="#5ac864"/>
<path d="M253.57 201.61L258.42 204.29L260.87 205.36L256.04 202.58z" fill="#22a884"/>
<path d="M165.55 178.08L170.31 178.81L173.07 177.56L168.32 176.72z" fill="#6ccd5a"/>
<path d="M80.93 209.48L85.49 208.15L88.41 204.31L83.85 205.54z" fill="#1fa287"/>
<path d="M190.12 179.81L194.91 181.1L197.6 180.54L192.82 179.13z" fill="#65cb5e"/>
<path d="M118.45 187.83L123.12 187.43L125.98 184.78L121.32 185.07z" fill="#4ec36b"/>
<path d="M177.83 178.49L182.61 179.5L185.34 178.6L180.57 177.47z" fill="#6ccd5a"/>
<path d="M145.75 180.14L150.47 180.4L153.28 178.57L148.56 178.2z" fill="#67cc5c"/>
<path d="M219.47 187.01L224.3 188.96L226.89 189.17L222.08 187.12z" fill="#48c16e"/>
<path d="M88.41 204.31L92.99 203.15L95.9 199.55L91.32 200.6z" fill="#25ac82"/>
<path d="M236.54 193.54L241.38 195.85L243.9 196.5L239.08 194.08z" fill="#34b679"/>
<path d="M110.93 191.31L115.57 190.72L118.45 187.83L113.81 188.31z" fill="#44bf70"/>
<path d="M95.9 199.55L100.51 198.59L103.41 195.22L98.8 196.08z" fill="#2eb37c"/>
<path d="M103.41 195.22L108.04 194.44L110.93 191.31L106.3 191.98z" fill="#38b977"/>
<path d="M138.21 182.14L142.92 182.21L145.75 180.14L141.04 179.96z" fill="#63cb5f"/>
<path d="M158.02 179.02L162.77 179.56L165.55 178.08L160.81 177.43z" fill="#6ece58"/>
<path d="M207.2 183.61L212.02 185.27L214.66 185.15L209.85 183.38z" fill="#58c765"/>
<path d="M70.54 219.39L75.08 217.76L78.01 213.56L73.47 215.08z" fill="#1f958b"/>
<path d="M241.38 195.85L246.23 198.25L248.74 199.01L243.9 196.5z" fill="#2fb47c"/>
<path d="M224.3 188.96L229.14 190.99L231.71 191.31L226.89 189.17z" fill="#44bf70"/>
<path d="M170.31 178.81L175.08 179.63L177.83 178.49L173.07 177.56z" fill="#70cf57"/>
<path d="M194.91 181.1L199.72 182.48L202.4 182.03L197.6 180.54z" fill="#65cb5e"/>
<path d="M130.66 184.57L135.36 184.44L138.21 182.14L133.51 182.16z" fill="#5ec962"/>
<path d="M182.61 179.5L187.4 180.6L190.12 179.81L185.34 178.6z" fill="#6ccd5a"/>
<path d="M78.01 213.56L82.57 212.11L85.49 208.15L80.93 209.48z" fill="#1fa088"/>
<path d="M150.47 180.4L155.21 180.74L158.02 179.02L153.28 178.57z" fill="#6ece58"/>
<path d="M123.12 187.43L127.8 187.11L130.66 184.57L125.98 184.78z" fill="#56c667"/>
<path d="M85.49 208.15L90.07 206.88L92.99 203.15L88.41 204.31z" fill="#23a983"/>
<path d="M212.02 185.27L216.85 187.02L219.47 187.01L214.66 185.15z" fill="#56c667"/>
<path d="M246.23 198.25L251.08 200.74L253.57 201.61L248.74 199.01z" fill="#2db27d"/>
<path d="M115.57 190.72L120.24 190.21L123.12 187.43L118.45 187.83z" fill="#4cc26c"/>
<path d="M92.99 203.15L97.6 202.08L100.51 198.59L95.9 199.55z" fill="#2ab07f"/>
<path d="M108.04 194.44L112.69 193.74L115.57 190.72L110.93 191.31z" fill="#40bd72"/>
<path d="M229.14 190.99L233.98 193.11L236.54 193.54L231.71 191.31z" fill="#42be71"/>
<path d="M100.51 198.59L105.14 197.69L108.04 194.44L103.41 195.22z" fill="#35b779"/>
<path d="M162.77 179.56L167.53 180.18L170.31 178.81L165.55 178.08z" fill="#73d056"/>
<path d="M142.92 182.21L147.65 182.35L150.47 180.4L145.75 180.14z" fill="#69cd5b"/>
<path d="M199.72 182.48L204.54 183.95L207.2 183.61L202.4 182.03z" fill="#63cb5f"/>
<path d="M175.08 179.63L179.87 180.53L182.61 179.5L177.83 178.49z" fill="#73d056"/>
<path d="M187.4 180.6L192.21 181.79L194.91 181.1L190.12 179.81z" fill="#6ece58"/>
<path d="M251.08 200.74L255.95 203.31L258.42 204.29L253.57 201.61z" fill="#29af7f"/>
<path d="M135.36 184.44L140.08 184.4L142.92 182.21L138.21 182.14z" fill="#65cb5e"/>
<path d="M216.85 187.02L221.69 188.86L224.3 188.96L219.47 187.01z" fill="#54c568"/>
<path d="M155.21 180.74L159.97 181.17L162.77 179.56L158.02 179.02z" fill="#73d056"/>
<path d="M233.98 193.11L238.84 195.31L241.38 195.85L236.54 193.54z" fill="#3fbc73"/>
<path d="M75.08 217.76L79.63 216.21L82.57 212.11L78.01 213.56z" fill="#1e9c89"/>
<path d="M127.8 187.11L132.5 186.87L135.36 184.44L130.66 184.57z" fill="#5cc863"/>
<path d="M204.54 183.95L209.37 185.5L212.02 185.27L207.2 183.61z" fill="#63cb5f"/>
<path d="M82.57 212.11L87.15 210.74L90.07 206.88L85.49 208.15z" fill="#21a585"/>
<path d="M167.53 180.18L172.32 180.89L175.08 179.63L170.31 178.81z" fill="#75d054"/>
<path d="M120.24 190.21L124.93 189.78L127.8 187.11L123.12 187.43z" fill="#54c568"/>
<path d="M192.21 181.79L197.03 183.06L199.72 182.48L194.91 181.1z" fill="#6ece58"/>
<path d="M90.07 206.88L94.68 205.7L97.6 202.08L92.99 203.15z" fill="#28ae80"/>
<path d="M179.87 180.53L184.67 181.52L187.4 180.6L182.61 179.5z" fill="#75d054"/>
<path d="M147.65 182.35L152.4 182.58L155.21 180.74L150.47 180.4z" fill="#70cf57"/>
<path d="M112.69 193.74L117.36 193.12L120.24 190.21L115.57 190.72z" fill="#4ac16d"/>
<path d="M97.6 202.08L102.23 201.08L105.14 197.69L100.51 198.59z" fill="#32b67a"/>
<path d="M221.69 188.86L226.54 190.78L229.14 190.99L224.3 188.96z" fill="#50c46a"/>
<path d="M105.14 197.69L109.79 196.88L112.69 193.74L108.04 194.44z" fill="#3dbc74"/>
<path d="M238.84 195.31L243.7 197.61L246.23 198.25L241.38 195.85z" fill="#3bbb75"/>
<path d="M140.08 184.4L144.81 184.43L147.65 182.35L142.92 182.21z" fill="#6ccd5a"/>
<path d="M159.97 181.17L164.75 181.68L167.53 180.18L162.77 179.56z" fill="#77d153"/>
<path d="M209.37 185.5L214.21 187.14L216.85 187.02L212.02 185.27z" fill="#60ca60"/>
<path d="M172.32 180.89L177.11 181.68L179.87 180.53L175.08 179.63z" fill="#7ad151"/>
<path d="M243.7 197.61L248.57 199.98L251.08 200.74L246.23 198.25z" fill="#37b878"/>
<path d="M197.03 183.06L201.86 184.41L204.54 183.95L199.72 182.48z" fill="#6ece58"/>
<path d="M132.5 186.87L137.23 186.71L140.08 184.4L135.36 184.44z" fill="#65cb5e"/>
<path d="M226.54 190.78L231.4 192.79L233.98 193.11L229.14 190.99z" fill="#4ec36b"/>
<path d="M184.67 181.52L189.49 182.59L192.21 181.79L187.4 180.6z" fill="#75d054"/>
<path d="M79.63 216.21L84.21 214.73L87.15 210.74L82.57 212.11z" fill="#1fa287"/>
<path d="M152.4 182.58L157.16 182.9L159.97 181.17L155.21 180.74z" fill="#75d054"/>
<path d="M124.93 189.78L129.64 189.43L132.5 186.87L127.8 187.11z" fill="#5cc863"/>
<path d="M87.15 210.74L91.75 209.45L94.68 205.7L90.07 206.88z" fill="#25ab82"/>
<path d="M117.36 193.12L122.04 192.57L124.93 189.78L120.24 190.21z" fill="#52c569"/>
<path d="M214.21 187.14L219.07 188.87L221.69 188.86L216.85 187.02z" fill="#5ec962"/>
<path d="M94.68 205.7L99.31 204.59L102.23 201.08L97.6 202.08z" fill="#2eb37c"/>
<path d="M109.79 196.88L114.46 196.15L117.36 193.12L112.69 193.74z" fill="#46c06f"/>
<path d="M102.23 201.08L106.88 200.15L109.79 196.88L105.14 197.69z" fill="#3aba76"/>
<path d="M248.57 199.98L253.45 202.45L255.95 203.31L251.08 200.74z" fill="#34b679"/>
<path d="M164.75 181.68L169.54 182.27L172.32 180.89L167.53 180.18z" fill="#7cd250"/>
<path d="M231.4 192.79L236.27 194.88L238.84 195.31L233.98 193.11z" fill="#4ac16d"/>
<path d="M144.81 184.43L149.57 184.55L152.4 182.58L147.65 182.35z" fill="#73d056"/>
<path d="M201.86 184.41L206.7 185.85L209.37 185.5L204.54 183.95z" fill="#6ece58"/>
<path d="M177.11 181.68L181.92 182.55L184.67 181.52L179.87 180.53z" fill="#7cd250"/>
<path d="M189.49 182.59L194.31 183.75L197.03 183.06L192.21 181.79z" fill="#77d153"/>
<path d="M137.23 186.71L141.97 186.64L144.81 184.43L140.08 184.4z" fill="#6ccd5a"/>
<path d="M219.07 188.87L223.93 190.68L226.54 190.78L221.69 188.86z" fill="#5cc863"/>
<path d="M157.16 182.9L161.94 183.29L164.75 181.68L159.97 181.17z" fill="#7cd250"/>
<path d="M236.27 194.88L241.15 197.07L243.7 197.61L238.84 195.31z" fill="#46c06f"/>
<path d="M129.64 189.43L134.36 189.16L137.23 186.71L132.5 186.87z" fill="#65cb5e"/>
<path d="M84.21 214.73L88.82 213.32L91.75 209.45L87.15 210.74z" fill="#22a884"/>
<path d="M206.7 185.85L211.55 187.38L214.21 187.14L209.37 185.5z" fill="#6ccd5a"/>
<path d="M169.54 182.27L174.34 182.95L177.11 181.68L172.32 180.89z" fill="#7fd34e"/>
<path d="M122.04 192.57L126.75 192.11L129.64 189.43L124.93 189.78z" fill="#5ac864"/>
<path d="M91.75 209.45L96.38 208.23L99.31 204.59L94.68 205.7z" fill="#2cb17e"/>
<path d="M149.57 184.55L154.34 184.75L157.16 182.9L152.4 182.58z" fill="#7ad151"/>
<path d="M194.31 183.75L199.16 184.99L201.86 184.41L197.03 183.06z" fill="#77d153"/>
<path d="M114.46 196.15L119.15 195.49L122.04 192.57L117.36 193.12z" fill="#50c46a"/>
<path d="M181.92 182.55L186.75 183.51L189.49 182.59L184.67 181.52z" fill="#7fd34e"/>
<path d="M99.31 204.59L103.96 203.56L106.88 200.15L102.23 201.08z" fill="#37b878"/>
<path d="M106.88 200.15L111.55 199.31L114.46 196.15L109.79 196.88z" fill="#44bf70"/>
<path d="M223.93 190.68L228.81 192.58L231.4 192.79L226.54 190.78z" fill="#5ac864"/>
<path d="M241.15 197.07L246.04 199.34L248.57 199.98L243.7 197.61z" fill="#42be71"/>
<path d="M141.97 186.64L146.72 186.64L149.57 184.55L144.81 184.43z" fill="#75d054"/>
<path d="M161.94 183.29L166.74 183.78L169.54 182.27L164.75 181.68z" fill="#81d34d"/>
<path d="M211.55 187.38L216.42 189L219.07 188.87L214.21 187.14z" fill="#6ccd5a"/>
<path d="M174.34 182.95L179.16 183.71L181.92 182.55L177.11 181.68z" fill="#81d34d"/>
<path d="M134.36 189.16L139.11 188.97L141.97 186.64L137.23 186.71z" fill="#6ece58"/>
<path d="M199.16 184.99L204.01 186.32L206.7 185.85L201.86 184.41z" fill="#77d153"/>
<path d="M246.04 199.34L250.94 201.7L253.45 202.45L248.57 199.98z" fill="#3fbc73"/>
<path d="M228.81 192.58L233.69 194.57L236.27 194.88L231.4 192.79z" fill="#58c765"/>
<path d="M186.75 183.51L191.59 184.56L194.31 183.75L189.49 182.59z" fill="#7fd34e"/>
<path d="M154.34 184.75L159.13 185.04L161.94 183.29L157.16 182.9z" fill="#7fd34e"/>
<path d="M126.75 192.11L131.48 191.73L134.36 189.16L129.64 189.43z" fill="#63cb5f"/>
<path d="M88.82 213.32L93.45 212L96.38 208.23L91.75 209.45z" fill="#28ae80"/>
<path d="M119.15 195.49L123.86 194.92L126.75 192.11L122.04 192.57z" fill="#58c765"/>
<path d="M96.38 208.23L101.03 207.08L103.96 203.56L99.31 204.59z" fill="#32b67a"/>
<path d="M111.55 199.31L116.24 198.55L119.15 195.49L114.46 196.15z" fill="#4cc26c"/>
<path d="M103.96 203.56L108.63 202.6L111.55 199.31L106.88 200.15z" fill="#3fbc73"/>
<path d="M216.42 189L221.3 190.7L223.93 190.68L219.07 188.87z" fill="#69cd5b"/>
<path d="M166.74 183.78L171.55 184.34L174.34 182.95L169.54 182.27z" fill="#84d44b"/>
<path d="M146.72 186.64L151.5 186.73L154.34 184.75L149.57 184.55z" fill="#7ad151"/>
<path d="M233.69 194.57L238.59 196.64L241.15 197.07L236.27 194.88z" fill="#54c568"/>
<path d="M204.01 186.32L208.88 187.74L211.55 187.38L206.7 185.85z" fill="#77d153"/>
<path d="M179.16 183.71L184 184.56L186.75 183.51L181.92 182.55z" fill="#86d549"/>
<path d="M191.59 184.56L196.44 185.69L199.16 184.99L194.31 183.75z" fill="#81d34d"/>
<path d="M139.11 188.97L143.87 188.86L146.72 186.64L141.97 186.64z" fill="#75d054"/>
<path d="M159.13 185.04L163.93 185.41L166.74 183.78L161.94 183.29z" fill="#84d44b"/>
<path d="M221.3 190.7L226.19 192.49L228.81 192.58L223.93 190.68z" fill="#67cc5c"/>
<path d="M131.48 191.73L136.23 191.43L139.11 188.97L134.36 189.16z" fill="#6ccd5a"/>
<path d="M238.59 196.64L243.49 198.8L246.04 199.34L241.15 197.07z" fill="#50c46a"/>
<path d="M123.86 194.92L128.59 194.43L131.48 191.73L126.75 192.11z" fill="#63cb5f"/>
<path d="M171.55 184.34L176.38 184.99L179.16 183.71L174.34 182.95z" fill="#89d548"/>
<path d="M93.45 212L98.1 210.74L101.03 207.08L96.38 208.23z" fill="#2fb47c"/>
<path d="M208.88 187.74L213.76 189.24L216.42 189L211.55 187.38z" fill="#77d153"/>
<path d="M116.24 198.55L120.96 197.86L123.86 194.92L119.15 195.49z" fill="#56c667"/>
<path d="M101.03 207.08L105.71 206.02L108.63 202.6L103.96 203.56z" fill="#3bbb75"/>
<path d="M151.5 186.73L156.3 186.9L159.13 185.04L154.34 184.75z" fill="#81d34d"/>
<path d="M108.63 202.6L113.33 201.72L116.24 198.55L111.55 199.31z" fill="#4ac16d"/>
<path d="M184 184.56L188.85 185.49L191.59 184.56L186.75 183.51z" fill="#89d548"/>
<path d="M196.44 185.69L201.31 186.91L204.01 186.32L199.16 184.99z" fill="#81d34d"/>
<path d="M226.19 192.49L231.09 194.37L233.69 194.57L228.81 192.58z" fill="#65cb5e"/>
<path d="M243.49 198.8L248.4 201.05L250.94 201.7L246.04 199.34z" fill="#4cc26c"/>
<path d="M143.87 188.86L148.65 188.84L151.5 186.73L146.72 186.64z" fill="#7cd250"/>
<path d="M163.93 185.41L168.75 185.86L171.55 184.34L166.74 183.78z" fill="#89d548"/>
<path d="M213.76 189.24L218.65 190.83L221.3 190.7L216.42 189z" fill="#75d054"/>
<path d="M136.23 191.43L141 191.21L143.87 188.86L139.11 188.97z" fill="#75d054"/>
<path d="M176.38 184.99L181.23 185.73L184 184.56L179.16 183.71z" fill="#8ed645"/>
<path d="M201.31 186.91L206.19 188.22L208.88 187.74L204.01 186.32z" fill="#81d34d"/>
<path d="M188.85 185.49L193.71 186.51L196.44 185.69L191.59 184.56z" fill="#89d548"/>
<path d="M231.09 194.37L236 196.33L238.59 196.64L233.69 194.57z" fill="#60ca60"/>
<path d="M128.59 194.43L133.35 194.01L136.23 191.43L131.48 191.73z" fill="#6ccd5a"/>
<path d="M156.3 186.9L161.11 187.16L163.93 185.41L159.13 185.04z" fill="#89d548"/>
<path d="M120.96 197.86L125.69 197.25L128.59 194.43L123.86 194.92z" fill="#60ca60"/>
<path d="M98.1 210.74L102.77 209.57L105.71 206.02L101.03 207.08z" fill="#38b977"/>
<path d="M113.33 201.72L118.05 200.93L120.96 197.86L116.24 198.55z" fill="#54c568"/>
<path d="M105.71 206.02L110.4 205.03L113.33 201.72L108.63 202.6z" fill="#46c06f"/>
<path d="M218.65 190.83L223.56 192.51L226.19 192.49L221.3 190.7z" fill="#73d056"/>
<path d="M168.75 185.86L173.59 186.4L176.38 184.99L171.55 184.34z" fill="#8ed645"/>
<path d="M148.65 188.84L153.45 188.9L156.3 186.9L151.5 186.73z" fill="#84d44b"/>
<path d="M236 196.33L240.92 198.38L243.49 198.8L238.59 196.64z" fill="#5ec962"/>
<path d="M206.19 188.22L211.08 189.61L213.76 189.24L208.88 187.74z" fill="#81d34d"/>
<path d="M181.23 185.73L186.09 186.55L188.85 185.49L184 184.56z" fill="#90d743"/>
<path d="M193.71 186.51L198.59 187.62L201.31 186.91L196.44 185.69z" fill="#8bd646"/>
<path d="M141 191.21L145.79 191.07L148.65 188.84L143.87 188.86z" fill="#7fd34e"/>
<path d="M161.11 187.16L165.94 187.5L168.75 185.86L163.93 185.41z" fill="#8ed645"/>
<path d="M223.56 192.51L228.47 194.28L231.09 194.37L226.19 192.49z" fill="#73d056"/>
<path d="M133.35 194.01L138.12 193.68L141 191.21L136.23 191.43z" fill="#75d054"/>
<path d="M240.92 198.38L245.85 200.52L248.4 201.05L243.49 198.8z" fill="#5ac864"/>
<path d="M125.69 197.25L130.45 196.73L133.35 194.01L128.59 194.43z" fill="#69cd5b"/>
<path d="M173.59 186.4L178.44 187.02L181.23 185.73L176.38 184.99z" fill="#93d741"/>
<path d="M102.77 209.57L107.47 208.47L110.4 205.03L105.71 206.02z" fill="#40bd72"/>
<path d="M211.08 189.61L215.99 191.09L218.65 190.83L213.76 189.24z" fill="#81d34d"/>
<path d="M118.05 200.93L122.78 200.21L125.69 197.25L120.96 197.86z" fill="#5ec962"/>
<path d="M110.4 205.03L115.12 204.12L118.05 200.93L113.33 201.72z" fill="#50c46a"/>
<path d="M153.45 188.9L158.27 189.04L161.11 187.16L156.3 186.9z" fill="#8bd646"/>
<path d="M186.09 186.55L190.96 187.45L193.71 186.51L188.85 185.49z" fill="#93d741"/>
<path d="M198.59 187.62L203.48 188.81L206.19 188.22L201.31 186.91z" fill="#8ed645"/>
<path d="M228.47 194.28L233.4 196.13L236 196.33L231.09 194.37z" fill="#6ece58"/>
<path d="M145.79 191.07L150.59 191.02L153.45 188.9L148.65 188.84z" fill="#86d549"/>
<path d="M165.94 187.5L170.78 187.92L173.59 186.4L168.75 185.86z" fill="#93d741"/>
<path d="M215.99 191.09L220.9 192.65L223.56 192.51L218.65 190.83z" fill="#81d34d"/>
<path d="M138.12 193.68L142.91 193.43L145.79 191.07L141 191.21z" fill="#7fd34e"/>
<path d="M178.44 187.02L183.31 187.73L186.09 186.55L181.23 185.73z" fill="#98d83e"/>
<path d="M203.48 188.81L208.38 190.09L211.08 189.61L206.19 188.22z" fill="#8ed645"/>
<path d="M190.96 187.45L195.85 188.45L198.59 187.62L193.71 186.51z" fill="#95d840"/>
<path d="M130.45 196.73L135.23 196.28L138.12 193.68L133.35 194.01z" fill="#75d054"/>
<path d="M158.27 189.04L163.1 189.27L165.94 187.5L161.11 187.16z" fill="#93d741"/>
<path d="M233.4 196.13L238.33 198.07L240.92 198.38L236 196.33z" fill="#6ccd5a"/>
<path d="M122.78 200.21L127.54 199.57L130.45 196.73L125.69 197.25z" fill="#67cc5c"/>
<path d="M107.47 208.47L112.19 207.45L115.12 204.12L110.4 205.03z" fill="#4cc26c"/>
<path d="M115.12 204.12L119.86 203.29L122.78 200.21L118.05 200.93z" fill="#5ac864"/>
<path d="M170.78 187.92L175.64 188.43L178.44 187.02L173.59 186.4z" fill="#98d83e"/>
<path d="M220.9 192.65L225.83 194.31L228.47 194.28L223.56 192.51z" fill="#7fd34e"/>
<path d="M150.59 191.02L155.42 191.05L158.27 189.04L153.45 188.9z" fill="#8ed645"/>
<path d="M238.33 198.07L243.28 200.1L245.85 200.52L240.92 198.38z" fill="#69cd5b"/>
<path d="M183.31 187.73L188.2 188.52L190.96 187.45L186.09 186.55z" fill="#9bd93c"/>
<path d="M208.38 190.09L213.3 191.46L215.99 191.09L211.08 189.61z" fill="#8ed645"/>
<path d="M195.85 188.45L200.75 189.53L203.48 188.81L198.59 187.62z" fill="#95d840"/>
<path d="M142.91 193.43L147.72 193.26L150.59 191.02L145.79 191.07z" fill="#86d549"/>
<path d="M163.1 189.27L167.96 189.58L170.78 187.92L165.94 187.5z" fill="#98d83e"/>
<path d="M135.23 196.28L140.02 195.92L142.91 193.43L138.12 193.68z" fill="#7fd34e"/>
<path d="M225.83 194.31L230.77 196.05L233.4 196.13L228.47 194.28z" fill="#7cd250"/>
<path d="M127.54 199.57L132.32 199.01L135.23 196.28L130.45 196.73z" fill="#73d056"/>
<path d="M175.64 188.43L180.52 189.03L183.31 187.73L178.44 187.02z" fill="#9dd93b"/>
<path d="M119.86 203.29L124.62 202.54L127.54 199.57L122.78 200.21z" fill="#65cb5e"/>
<path d="M112.19 207.45L116.93 206.51L119.86 203.29L115.12 204.12z" fill="#58c765"/>
<path d="M155.42 191.05L160.26 191.16L163.1 189.27L158.27 189.04z" fill="#95d840"/>
<path d="M213.3 191.46L218.23 192.91L220.9 192.65L215.99 191.09z" fill="#8ed645"/>
<path d="M188.2 188.52L193.09 189.4L195.85 188.45L190.96 187.45z" fill="#9dd93b"/>
<path d="M200.75 189.53L205.67 190.69L208.38 190.09L203.48 188.81z" fill="#98d83e"/>
<path d="M147.72 193.26L152.55 193.18L155.42 191.05L150.59 191.02z" fill="#90d743"/>
<path d="M230.77 196.05L235.72 197.88L238.33 198.07L233.4 196.13z" fill="#7ad151"/>
<path d="M167.96 189.58L172.83 189.97L175.64 188.43L170.78 187.92z" fill="#9dd93b"/>
<path d="M140.02 195.92L144.84 195.64L147.72 193.26L142.91 193.43z" fill="#86d549"/>
<path d="M218.23 192.91L223.17 194.45L225.83 194.31L220.9 192.65z" fill="#8bd646"/>
<path d="M180.52 189.03L185.41 189.71L188.2 188.52L183.31 187.73z" fill="#a2da37"/>
<path d="M132.32 199.01L137.12 198.54L140.02 195.92L135.23 196.28z" fill="#7cd250"/>
<path d="M205.67 190.69L210.6 191.95L213.3 191.46L208.38 190.09z" fill="#98d83e"/>
<path d="M193.09 189.4L198.01 190.36L200.75 189.53L195.85 188.45z" fill="#a0da39"/>
<path d="M160.26 191.16L165.12 191.35L167.96 189.58L163.1 189.27z" fill="#9dd93b"/>
<path d="M235.72 197.88L240.68 199.79L243.28 200.1L238.33 198.07z" fill="#77d153"/>
<path d="M124.62 202.54L129.4 201.87L132.32 199.01L127.54 199.57z" fill="#70cf57"/>
<path d="M116.93 206.51L121.69 205.64L124.62 202.54L119.86 203.29z" fill="#63cb5f"/>
<path d="M152.55 193.18L157.4 193.18L160.26 191.16L155.42 191.05z" fill="#98d83e"/>
<path d="M172.83 189.97L177.71 190.45L180.52 189.03L175.64 188.43z" fill="#a5db36"/>
<path d="M223.17 194.45L228.13 196.08L230.77 196.05L225.83 194.31z" fill="#8bd646"/>
<path d="M185.41 189.71L190.32 190.47L193.09 189.4L188.2 188.52z" fill="#a5db36"/>
<path d="M210.6 191.95L215.54 193.29L218.23 192.91L213.3 191.46z" fill="#98d83e"/>
<path d="M144.84 195.64L149.67 195.44L152.55 193.18L147.72 193.26z" fill="#90d743"/>
<path d="M198.01 190.36L202.94 191.42L205.67 190.69L200.75 189.53z" fill="#a2da37"/>
<path d="M165.12 191.35L170 191.64L172.83 189.97L167.96 189.58z" fill="#a2da37"/>
<path d="M137.12 198.54L141.94 198.14L144.84 195.64L140.02 195.92z" fill="#86d549"/>
<path d="M228.13 196.08L233.09 197.8L235.72 197.88L230.77 196.05z" fill="#89d548"/>
<path d="M129.4 201.87L134.21 201.28L137.12 198.54L132.32 199.01z" fill="#7cd250"/>
<path d="M121.69 205.64L126.48 204.86L129.4 201.87L124.62 202.54z" fill="#6ece58"/>
<path d="M177.71 190.45L182.62 191.02L185.41 189.71L180.52 189.03z" fill="#a8db34"/>
<path d="M157.4 193.18L162.27 193.26L165.12 191.35L160.26 191.16z" fill="#a0da39"/>
<path d="M215.54 193.29L220.5 194.72L223.17 194.45L218.23 192.91z" fill="#98d83e"/>
<path d="M190.32 190.47L195.25 191.32L198.01 190.36L193.09 189.4z" fill="#a8db34"/>
<path d="M202.94 191.42L207.88 192.56L210.6 191.95L205.67 190.69z" fill="#a2da37"/>
<path d="M149.67 195.44L154.53 195.33L157.4 193.18L152.55 193.18z" fill="#9bd93c"/>
<path d="M233.09 197.8L238.07 199.6L240.68 199.79L235.72 197.88z" fill="#86d549"/>
<path d="M170 191.64L174.89 192L177.71 190.45L172.83 189.97z" fill="#aadc32"/>
<path d="M141.94 198.14L146.78 197.83L149.67 195.44L144.84 195.64z" fill="#90d743"/>
<path d="M220.5 194.72L225.47 196.23L228.13 196.08L223.17 194.45z" fill="#98d83e"/>
<path d="M182.62 191.02L187.54 191.67L190.32 190.47L185.41 189.71z" fill="#addc30"/>
<path d="M134.21 201.28L139.03 200.78L141.94 198.14L137.12 198.54z" fill="#86d549"/>
<path d="M207.88 192.56L212.83 193.78L215.54 193.29L210.6 191.95z" fill="#a5db36"/>
<path d="M195.25 191.32L200.19 192.26L202.94 191.42L198.01 190.36z" fill="#addc30"/>
<path d="M162.27 193.26L167.15 193.43L170 191.64L165.12 191.35z" fill="#a8db34"/>
<path d="M126.48 204.86L131.28 204.16L134.21 201.28L129.4 201.87z" fill="#7ad151"/>
<path d="M154.53 195.33L159.4 195.29L162.27 193.26L157.4 193.18z" fill="#a2da37"/>
<path d="M174.89 192L179.8 192.45L182.62 191.02L177.71 190.45z" fill="#b0dd2f"/>
<path d="M225.47 196.23L230.45 197.83L233.09 197.8L228.13 196.08z" fill="#98d83e"/>
<path d="M187.54 191.67L192.47 192.41L195.25 191.32L190.32 190.47z" fill="#b2dd2d"/>
<path d="M146.78 197.83L151.64 197.6L154.53 195.33L149.67 195.44z" fill="#9bd93c"/>
<path d="M212.83 193.78L217.8 195.1L220.5 194.72L215.54 193.29z" fill="#a5db36"/>
<path d="M200.19 192.26L205.14 193.29L207.88 192.56L202.94 191.42z" fill="#addc30"/>
<path d="M167.15 193.43L172.05 193.68L174.89 192L170 191.64z" fill="#addc30"/>
<path d="M139.03 200.78L143.88 200.35L146.78 197.83L141.94 198.14z" fill="#90d743"/>
<path d="M131.28 204.16L136.11 203.54L139.03 200.78L134.21 201.28z" fill="#84d44b"/>
<path d="M230.45 197.83L235.44 199.53L238.07 199.6L233.09 197.8z" fill="#95d840"/>
<path d="M179.8 192.45L184.73 192.99L187.54 191.67L182.62 191.02z" fill="#b5de2b"/>
<path d="M159.4 195.29L164.29 195.35L167.15 193.43L162.27 193.26z" fill="#aadc32"/>
<path d="M217.8 195.1L222.78 196.5L225.47 196.23L220.5 194.72z" fill="#a5db36"/>
<path d="M192.47 192.41L197.42 193.23L200.19 192.26L195.25 191.32z" fill="#b5de2b"/>
<path d="M205.14 193.29L210.11 194.4L212.83 193.78L207.88 192.56z" fill="#b0dd2f"/>
<path d="M151.64 197.6L156.52 197.45L159.4 195.29L154.53 195.33z" fill="#a5db36"/>
<path d="M172.05 193.68L176.97 194.01L179.8 192.45L174.89 192z" fill="#b5de2b"/>
<path d="M143.88 200.35L148.74 200.01L151.64 197.6L146.78 197.83z" fill="#9bd93c"/>
<path d="M184.73 192.99L189.68 193.61L192.47 192.41L187.54 191.67z" fill="#b8de29"/>
<path d="M222.78 196.5L227.78 197.99L230.45 197.83L225.47 196.23z" fill="#a5db36"/>
<path d="M136.11 203.54L140.96 203L143.88 200.35L139.03 200.78z" fill="#90d743"/>
<path d="M164.29 195.35L169.2 195.48L172.05 193.68L167.15 193.43z" fill="#b2dd2d"/>
<path d="M197.42 193.23L202.38 194.14L205.14 193.29L200.19 192.26z" fill="#b8de29"/>
<path d="M210.11 194.4L215.09 195.6L217.8 195.1L212.83 193.78z" fill="#b2dd2d"/>
<path d="M156.52 197.45L161.42 197.39L164.29 195.35L159.4 195.29z" fill="#addc30"/>
<path d="M176.97 194.01L181.91 194.44L184.73 192.99L179.8 192.45z" fill="#bade28"/>
<path d="M227.78 197.99L232.78 199.57L235.44 199.53L230.45 197.83z" fill="#a5db36"/>
<path d="M148.74 200.01L153.63 199.74L156.52 197.45L151.64 197.6z" fill="#a5db36"/>
<path d="M189.68 193.61L194.64 194.32L197.42 193.23L192.47 192.41z" fill="#bddf26"/>
<path d="M215.09 195.6L220.08 196.89L222.78 196.5L217.8 195.1z" fill="#b2dd2d"/>
<path d="M202.38 194.14L207.36 195.14L210.11 194.4L205.14 193.29z" fill="#bade28"/>
<path d="M169.2 195.48L174.13 195.7L176.97 194.01L172.05 193.68z" fill="#bade28"/>
<path d="M140.96 203L145.83 202.54L148.74 200.01L143.88 200.35z" fill="#9bd93c"/>
<path d="M181.91 194.44L186.87 194.94L189.68 193.61L184.73 192.99z" fill="#c0df25"/>
<path d="M161.42 197.39L166.34 197.41L169.2 195.48L164.29 195.35z" fill="#b5de2b"/>
<path d="M220.08 196.89L225.09 198.27L227.78 197.99L222.78 196.5z" fill="#b2dd2d"/>
<path d="M194.64 194.32L199.61 195.12L202.38 194.14L197.42 193.23z" fill="#c0df25"/>
<path d="M207.36 195.14L212.36 196.23L215.09 195.6L210.11 194.4z" fill="#bddf26"/>
<path d="M153.63 199.74L158.53 199.57L161.42 197.39L156.52 197.45z" fill="#b0dd2f"/>
<path d="M174.13 195.7L179.08 196.01L181.91 194.44L176.97 194.01z" fill="#c0df25"/>
<path d="M145.83 202.54L150.72 202.16L153.63 199.74L148.74 200.01z" fill="#a5db36"/>
<path d="M186.87 194.94L191.84 195.54L194.64 194.32L189.68 193.61z" fill="#c5e021"/>
<path d="M225.09 198.27L230.11 199.73L232.78 199.57L227.78 197.99z" fill="#b2dd2d"/>
<path d="M166.34 197.41L171.27 197.52L174.13 195.7L169.2 195.48z" fill="#bddf26"/>
<path d="M199.61 195.12L204.6 196L207.36 195.14L202.38 194.14z" fill="#c5e021"/>
<path d="M212.36 196.23L217.37 197.4L220.08 196.89L215.09 195.6z" fill="#bddf26"/>
<path d="M158.53 199.57L163.45 199.47L166.34 197.41L161.42 197.39z" fill="#b8de29"/>
<path d="M179.08 196.01L184.04 196.4L186.87 194.94L181.91 194.44z" fill="#c5e021"/>
<path d="M150.72 202.16L155.63 201.87L158.53 199.57L153.63 199.74z" fill="#b0dd2f"/>
<path d="M191.84 195.54L196.82 196.22L199.61 195.12L194.64 194.32z" fill="#cae11f"/>
<path d="M217.37 197.4L222.39 198.66L225.09 198.27L220.08 196.89z" fill="#c0df25"/>
<path d="M204.6 196L209.61 196.97L212.36 196.23L207.36 195.14z" fill="#c8e020"/>
<path d="M171.27 197.52L176.22 197.71L179.08 196.01L174.13 195.7z" fill="#c5e021"/>
<path d="M184.04 196.4L189.02 196.88L191.84 195.54L186.87 194.94z" fill="#cae11f"/>
<path d="M163.45 199.47L168.4 199.46L171.27 197.52L166.34 197.41z" fill="#c0df25"/>
<path d="M222.39 198.66L227.42 200.01L230.11 199.73L225.09 198.27z" fill="#c0df25"/>
<path d="M196.82 196.22L201.82 196.99L204.6 196L199.61 195.12z" fill="#cde11d"/>
<path d="M209.61 196.97L214.63 198.03L217.37 197.4L212.36 196.23z" fill="#c8e020"/>
<path d="M155.63 201.87L160.56 201.66L163.45 199.47L158.53 199.57z" fill="#bade28"/>
<path d="M176.22 197.71L181.2 197.99L184.04 196.4L179.08 196.01z" fill="#cae11f"/>
<path d="M189.02 196.88L194.02 197.45L196.82 196.22L191.84 195.54z" fill="#d0e11c"/>
<path d="M168.4 199.46L173.36 199.54L176.22 197.71L171.27 197.52z" fill="#c8e020"/>
<path d="M201.82 196.99L206.84 197.84L209.61 196.97L204.6 196z" fill="#d0e11c"/>
<path d="M214.63 198.03L219.66 199.18L222.39 198.66L217.37 197.4z" fill="#cae11f"/>
<path d="M160.56 201.66L165.51 201.54L168.4 199.46L163.45 199.47z" fill="#c2df23"/>
<path d="M181.2 197.99L186.19 198.35L189.02 196.88L184.04 196.4z" fill="#d2e21b"/>
<path d="M194.02 197.45L199.03 198.1L201.82 196.99L196.82 196.22z" fill="#d5e21a"/>
<path d="M219.66 199.18L224.71 200.41L227.42 200.01L222.39 198.66z" fill="#cde11d"/>
<path d="M206.84 197.84L211.87 198.79L214.63 198.03L209.61 196.97z" fill="#d2e21b"/>
<path d="M173.36 199.54L178.34 199.7L181.2 197.99L176.22 197.71z" fill="#d0e11c"/>
<path d="M186.19 198.35L191.19 198.8L194.02 197.45L189.02 196.88z" fill="#d8e219"/>
<path d="M165.51 201.54L170.48 201.5L173.36 199.54L168.4 199.46z" fill="#cde11d"/>
<path d="M199.03 198.1L204.06 198.84L206.84 197.84L201.82 196.99z" fill="#dae319"/>
<path d="M211.87 198.79L216.92 199.82L219.66 199.18L214.63 198.03z" fill="#d5e21a"/>
<path d="M178.34 199.7L183.34 199.95L186.19 198.35L181.2 197.99z" fill="#d8e219"/>
<path d="M191.19 198.8L196.21 199.34L199.03 198.1L194.02 197.45z" fill="#dde318"/>
<path d="M170.48 201.5L175.46 201.54L178.34 199.7L173.36 199.54z" fill="#d5e21a"/>
<path d="M204.06 198.84L209.1 199.67L211.87 198.79L206.84 197.84z" fill="#dde318"/>
<path d="M216.92 199.82L221.98 200.94L224.71 200.41L219.66 199.18z" fill="#d8e219"/>
<path d="M183.34 199.95L188.35 200.28L191.19 198.8L186.19 198.35z" fill="#dde318"/>
<path d="M196.21 199.34L201.25 199.96L204.06 198.84L199.03 198.1z" fill="#e2e418"/>
<path d="M209.1 199.67L214.16 200.58L216.92 199.82L211.87 198.79z" fill="#dfe318"/>
<path d="M175.46 201.54L180.47 201.67L183.34 199.95L178.34 199.7z" fill="#dde318"/>
<path d="M188.35 200.28L193.38 200.7L196.21 199.34L191.19 198.8z" fill="#e5e419"/>
<path d="M201.25 199.96L206.31 200.67L209.1 199.67L204.06 198.84z" fill="#e5e419"/>
<path d="M214.16 200.58L219.24 201.59L221.98 200.94L216.92 199.82z" fill="#e2e418"/>
<path d="M180.47 201.67L185.49 201.89L188.35 200.28L183.34 199.95z" fill="#e2e418"/>
<path d="M193.38 200.7L198.43 201.21L201.25 199.96L196.21 199.34z" fill="#eae51a"/>
<path d="M206.31 200.67L211.38 201.47L214.16 200.58L209.1 199.67z" fill="#eae51a"/>
<path d="M185.49 201.89L190.54 202.19L193.38 200.7L188.35 200.28z" fill="#eae51a"/>
<path d="M198.43 201.21L203.5 201.8L206.31 200.67L201.25 199.96z" fill="#efe51c"/>
<path d="M211.38 201.47L216.47 202.36L219.24 201.59L214.16 200.58z" fill="#ece51b"/>
<path d="M190.54 202.19L195.6 202.58L198.43 201.21L193.38 200.7z" fill="#efe51c"/>
<path d="M203.5 201.8L208.58 202.48L211.38 201.47L206.31 200.67z" fill="#f1e51d"/>
<path d="M195.6 202.58L200.68 203.06L203.5 201.8L198.43 201.21z" fill="#f4e61e"/>
<path d="M208.58 202.48L213.68 203.25L216.47 202.36L211.38 201.47z" fill="#f6e620"/>
<path d="M200.68 203.06L205.77 203.62L208.58 202.48L203.5 201.8z" fill="#f8e621"/>
<path d="M205.77 203.62L210.88 204.28L213.68 203.25L208.58 202.48z" fill="#fde725"/>
</g>
<text font-size="11" x="79.08" y="15.82">Response Surface: optical_clarity</text>
<text font-size="11" x="103.95" y="28.82">grind_rpm vs polish_grit</text>
<defs><linearGradient id="cb" x1="0" y1="0" x2="0" y2="1"><stop offset="0" stop-color="#feeb45"/><stop offset="0.0156" stop-color="#f7ea41"/><stop offset="0.0312" stop-color="#efe93d"/><stop offset="0.0469" stop-color="#e6e83b"/><stop offset="0.0625" stop-color="#dee73c"/><stop offset="0.0781" stop-color="#d5e53f"/><stop offset="0.0938" stop-color="#cbe444"/><stop offset="0.1094" stop-color="#c2e349"/><stop offset="0.125" stop-color="#b9e14f"/><stop offset="0.1406" stop-color="#b0e055"/><stop offset="0.1562" stop-color="#a7de5b"/><stop offset="0.1719" stop-color="#9fdc61"/><stop offset="0.1875" stop-color="#96da66"/><stop offset="0.2031" stop-color="#8ed86b"/><stop offset="0.2188" stop-color="#86d670"/><stop offset="0.2344" stop-color="#7ed475"/><stop offset="0.25" stop-color="#76d179"/><stop offset="0.2656" stop-color="#6fcf7d"/><stop offset="0.2812" stop-color="#68cc81"/><stop offset="0.2969" stop-color="#62c985"/><stop offset="0.3125" stop-color="#5cc688"/><stop offset="0.3281" stop-color="#56c48b"/><stop offset="0.3438" stop-color="#51c18e"/><stop offset="0.3594" stop-color="#4cbe91"/><stop offset="0.375" stop-color="#48ba93"/><stop offset="0.3906" stop-color="#45b795"/><stop offset="0.4062" stop-color="#43b497"/><stop offset="0.4219" stop-color="#41b198"/><stop offset="0.4375" stop-color="#40ae9a"/><stop offset="0.4531" stop-color="#40ab9b"/><stop offset="0.4688" stop-color="#40a89c"/><stop offset="0.4844" stop-color="#41a49d"/><stop offset="0.5" stop-color="#42a19e"/><stop offset="0.5156" stop-color="#439e9e"/><stop offset="0.5312" stop-color="#449b9f"/><stop offset="0.5469" stop-color="#45989f"/><stop offset="0.5625" stop-color="#47949f"/><stop offset="0.5781" stop-color="#48919f"/><stop offset="0.5938" stop-color="#498e9f"/><stop offset="0.6094" stop-color="#4a8b9f"/><stop offset="0.625" stop-color="#4c889f"/><stop offset="0.6406" stop-color="#4d849f"/><stop offset="0.6562" stop-color="#4e819f"/><stop offset="0.6719" stop-color="#507e9f"/><stop offset="0.6875" stop-color="#517a9e"/><stop offset="0.7031" stop-color="#53779e"/><stop offset="0.7188" stop-color="#55739e"/><stop offset="0.7344" stop-color="#56709d"/><stop offset="0.75" stop-color="#586c9d"/><stop offset="0.7656" stop-color="#5a689c"/><stop offset="0.7812" stop-color="#5b659b"/><stop offset="0.7969" stop-color="#5d6199"/><stop offset="0.8125" stop-color="#5e5d98"/><stop offset="0.8281" stop-color="#605996"/><stop offset="0.8438" stop-color="#615594"/><stop offset="0.8594" stop-color="#625092"/><stop offset="0.875" stop-color="#634c8f"/><stop offset="0.8906" stop-color="#63488c"/><stop offset="0.9062" stop-color="#644489"/><stop offset="0.9219" stop-color="#643f85"/><stop offset="0.9375" stop-color="#633b81"/><stop offset="0.9531" stop-color="#63367c"/><stop offset="0.9688" stop-color="#623178"/><stop offset="0.9844" stop-color="#612c73"/><stop offset="1" stop-color="#60276e"/></linearGradient></defs>
<rect x="386.5" y="113.76" width="16.66" height="166.46" fill="url(#cb)" stroke="#000" stroke-width=".8" stroke-linejoin="miter"/>
<path d="M403.15 264.97h3.5M403.15 236.61h3.5M403.15 208.25h3.5M403.15 179.89h3.5M403.15 151.53h3.5M403.15 123.17h3.5" fill="none" stroke="#000" stroke-width=".8"/>
<text font-size="10" x="410.15" y="269.59">4.5</text>
<text font-size="10" x="410.15" y="241.23">5.0</text>
<text font-size="10" x="410.15" y="212.87">5.5</text>
<text font-size="10" x="410.15" y="184.51">6.0</text>
<text font-size="10" x="410.15" y="156.15">6.5</text>
<text font-size="10" x="410.15" y="127.79">7.0</text>
</svg>
</body></html>
